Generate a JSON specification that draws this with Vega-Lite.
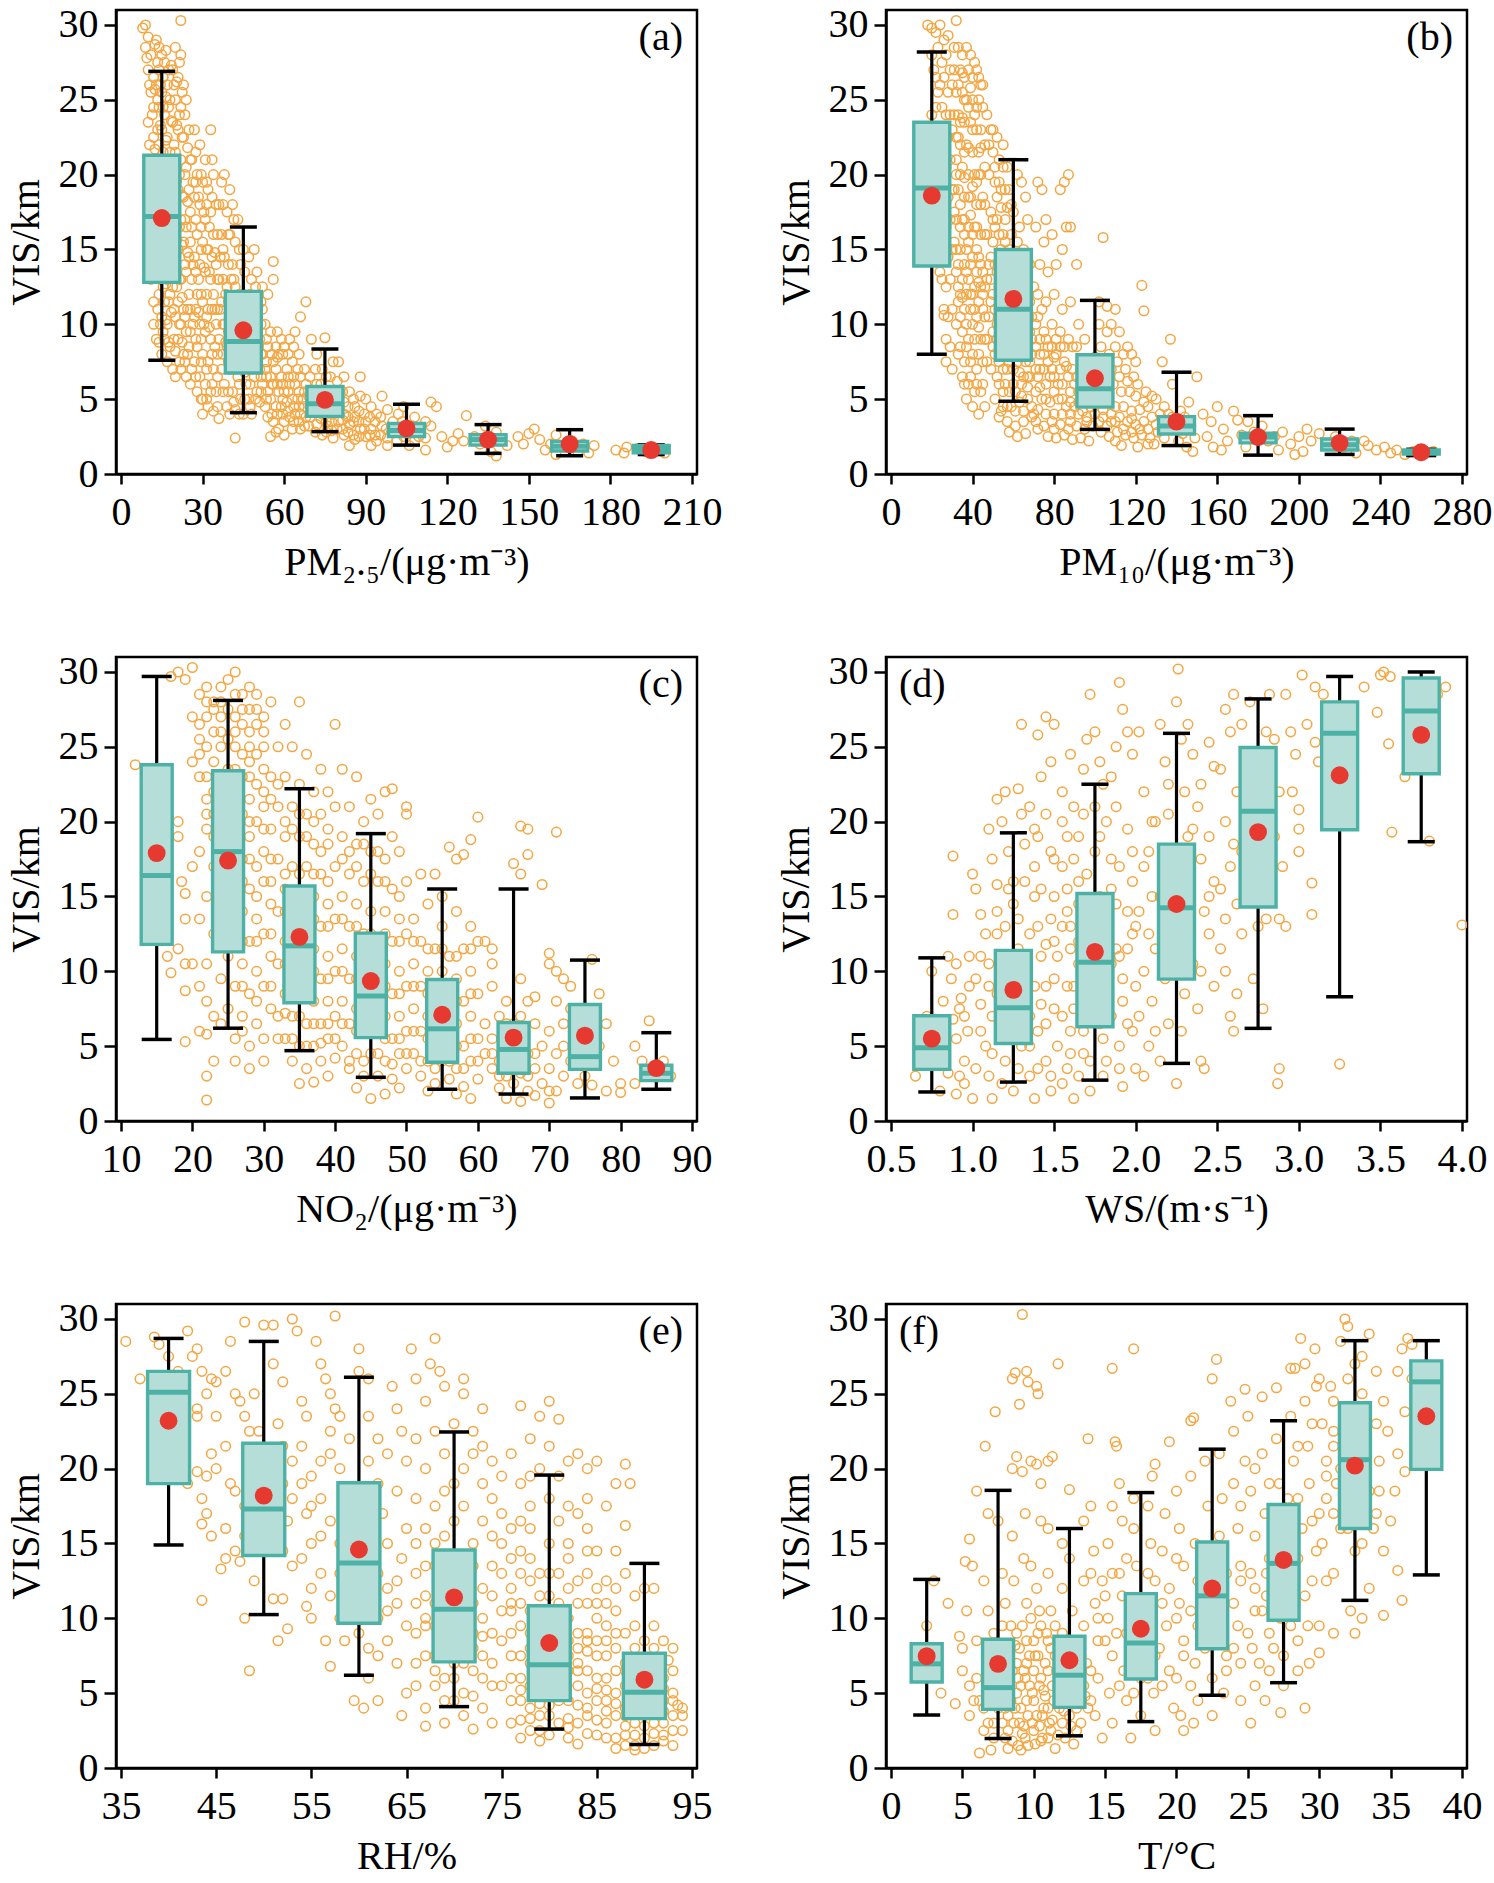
{
  "$schema": "https://vega.github.io/schema/vega-lite/v6.json",
  "background": "white",
  "padding": {"left": 4, "top": 3, "right": 10, "bottom": 0},
  "config": {
    "view": {"stroke": "black", "strokeWidth": 2.5},
    "font": "Liberation Serif",
    "axis": {
      "labelFont": "Liberation Serif", "labelFontSize": 40, "labelColor": "black",
      "titleFont": "Liberation Serif", "titleFontSize": 40, "titleFontWeight": "normal", "titleColor": "black",
      "domainColor": "black", "domainWidth": 2.5, "tickColor": "black", "tickWidth": 2.5,
      "grid": false, "labelFlush": false, "labelOverlap": false, "labelPadding": 6, "titlePadding": 12
    },
    "axisX": {"tickSize": 10, "labelPadding": 8, "titlePadding": 10},
    "axisY": {"tickSize": 12},
    "title": {"font": "Liberation Serif", "fontSize": 40, "fontWeight": "normal", "color": "black", "frame": "group"}
  },
  "spacing": {"row": 66, "column": 50},
  "columns": 2,
  "datasets": {
    "ba": [
      {"x": 15, "lo": 7.6, "q1": 12.8, "md": 17.2, "q3": 21.3, "hi": 26.9, "mn": 17.1},
      {"x": 45, "lo": 4.1, "q1": 6.75, "md": 8.85, "q3": 12.2, "hi": 16.5, "mn": 9.6},
      {"x": 75, "lo": 2.83, "q1": 3.85, "md": 4.7, "q3": 5.85, "hi": 8.35, "mn": 4.95},
      {"x": 105, "lo": 1.93, "q1": 2.5, "md": 2.9, "q3": 3.37, "hi": 4.66, "mn": 3.05},
      {"x": 135, "lo": 1.38, "q1": 1.93, "md": 2.3, "q3": 2.63, "hi": 3.3, "mn": 2.3},
      {"x": 165, "lo": 1.22, "q1": 1.54, "md": 1.85, "q3": 2.18, "hi": 2.96, "mn": 2.0},
      {"x": 195, "lo": 1.3, "q1": 1.42, "md": 1.65, "q3": 1.9, "hi": 1.95, "mn": 1.6}
    ],
    "bb": [
      {"x": 20, "lo": 8.0, "q1": 13.9, "md": 19.1, "q3": 23.5, "hi": 28.2, "mn": 18.6},
      {"x": 60, "lo": 4.86, "q1": 7.6, "md": 11.0, "q3": 15.0, "hi": 21.0, "mn": 11.7},
      {"x": 100, "lo": 2.98, "q1": 4.47, "md": 5.7, "q3": 7.97, "hi": 11.6, "mn": 6.4},
      {"x": 140, "lo": 1.9, "q1": 2.67, "md": 3.2, "q3": 3.83, "hi": 6.8, "mn": 3.5},
      {"x": 180, "lo": 1.26, "q1": 2.08, "md": 2.47, "q3": 2.72, "hi": 3.9, "mn": 2.47},
      {"x": 220, "lo": 1.31, "q1": 1.6, "md": 1.95, "q3": 2.34, "hi": 3.0, "mn": 2.08},
      {"x": 260, "lo": 1.23, "q1": 1.34, "md": 1.45, "q3": 1.6, "hi": 1.65, "mn": 1.45}
    ],
    "bc": [
      {"x": 15, "lo": 5.45, "q1": 11.8, "md": 16.4, "q3": 23.8, "hi": 29.7, "mn": 17.9},
      {"x": 25, "lo": 6.2, "q1": 11.3, "md": 18.0, "q3": 23.4, "hi": 28.1, "mn": 17.4},
      {"x": 35, "lo": 4.7, "q1": 7.9, "md": 11.7, "q3": 15.7, "hi": 22.2, "mn": 12.3},
      {"x": 45, "lo": 2.92, "q1": 5.57, "md": 8.35, "q3": 12.55, "hi": 19.2, "mn": 9.35},
      {"x": 55, "lo": 2.12, "q1": 3.93, "md": 6.16, "q3": 9.45, "hi": 15.5, "mn": 7.1},
      {"x": 65, "lo": 1.8, "q1": 3.19, "md": 4.78, "q3": 6.58, "hi": 15.5, "mn": 5.57},
      {"x": 75, "lo": 1.54, "q1": 3.45, "md": 4.3, "q3": 7.78, "hi": 10.75, "mn": 5.7},
      {"x": 85, "lo": 2.12, "q1": 2.7, "md": 3.19, "q3": 3.72, "hi": 5.9, "mn": 3.53}
    ],
    "bd": [
      {"x": 0.75, "lo": 1.94, "q1": 3.45, "md": 4.9, "q3": 7.03, "hi": 10.9, "mn": 5.5},
      {"x": 1.25, "lo": 2.6, "q1": 5.18, "md": 7.57, "q3": 11.4, "hi": 19.25, "mn": 8.76},
      {"x": 1.75, "lo": 2.73, "q1": 6.3, "md": 10.6, "q3": 15.2, "hi": 22.5, "mn": 11.3},
      {"x": 2.25, "lo": 3.85, "q1": 9.48, "md": 14.25, "q3": 18.5, "hi": 25.9, "mn": 14.5},
      {"x": 2.75, "lo": 6.19, "q1": 14.3, "md": 20.7, "q3": 24.95, "hi": 28.2, "mn": 19.3},
      {"x": 3.25, "lo": 8.3, "q1": 19.46, "md": 25.9, "q3": 28.0, "hi": 29.7, "mn": 23.1},
      {"x": 3.75, "lo": 18.66, "q1": 23.2, "md": 27.4, "q3": 29.6, "hi": 30.0, "mn": 25.8}
    ],
    "be": [
      {"x": 40, "lo": 14.9, "q1": 19.0, "md": 25.1, "q3": 26.5, "hi": 28.7, "mn": 23.2},
      {"x": 50, "lo": 10.25, "q1": 14.2, "md": 17.3, "q3": 21.7, "hi": 28.5, "mn": 18.2},
      {"x": 60, "lo": 6.2, "q1": 9.67, "md": 13.7, "q3": 19.06, "hi": 26.1, "mn": 14.6},
      {"x": 70, "lo": 4.1, "q1": 7.09, "md": 10.6, "q3": 14.56, "hi": 22.45, "mn": 11.4},
      {"x": 80, "lo": 2.6, "q1": 4.5, "md": 6.9, "q3": 10.84, "hi": 19.57, "mn": 8.35},
      {"x": 90, "lo": 1.57, "q1": 3.3, "md": 5.06, "q3": 7.67, "hi": 13.67, "mn": 5.9}
    ],
    "bf": [
      {"x": 2.5, "lo": 3.54, "q1": 5.75, "md": 6.96, "q3": 8.3, "hi": 12.6, "mn": 7.47},
      {"x": 7.5, "lo": 1.97, "q1": 3.92, "md": 5.37, "q3": 8.6, "hi": 18.55, "mn": 6.96},
      {"x": 12.5, "lo": 2.15, "q1": 4.05, "md": 6.2, "q3": 8.8, "hi": 16.0, "mn": 7.2},
      {"x": 17.5, "lo": 3.1, "q1": 5.95, "md": 8.35, "q3": 11.65, "hi": 18.4, "mn": 9.3},
      {"x": 22.5, "lo": 4.86, "q1": 7.97, "md": 11.5, "q3": 15.1, "hi": 21.3, "mn": 12.0},
      {"x": 27.5, "lo": 5.7, "q1": 9.87, "md": 13.67, "q3": 17.6, "hi": 23.2, "mn": 13.9},
      {"x": 32.5, "lo": 11.2, "q1": 16.0, "md": 20.6, "q3": 24.4, "hi": 28.55, "mn": 20.2},
      {"x": 37.5, "lo": 12.9, "q1": 19.95, "md": 25.8, "q3": 27.2, "hi": 28.55, "mn": 23.5}
    ],
    "sa": [
      {"x":8,"y":29.8},{"x":9,"y":30},{"x":10,"y":29.2},{"x":9,"y":28.5},{"x":11,"y":28},{"x":10,"y":27},{"x":12,"y":26.5},{"x":11,"y":25.5},{"x":12,"y":24.5},{"x":10,"y":23.5},{"x":12,"y":22.5},{"x":11,"y":21},{"x":12,"y":19.5},{"x":11,"y":18},{"x":12,"y":16.5},{"x":12,"y":15},{"x":11,"y":13},{"x":12,"y":11.5},{"x":12,"y":10},{"x":13,"y":9},
      {"x":13,"y":29},{"x":14,"y":28.5},{"x":15,"y":28},{"x":16,"y":27.5},{"x":14,"y":27},{"x":13,"y":26},{"x":15,"y":25.5},{"x":17,"y":26},{"x":14,"y":24.5},{"x":16,"y":24},{"x":18,"y":25},{"x":15,"y":23},{"x":17,"y":22.5},{"x":14,"y":22},{"x":16,"y":21},{"x":18,"y":21.5},{"x":15,"y":20},{"x":17,"y":19.5},{"x":14,"y":19},{"x":16,"y":18},{"x":18,"y":18.5},{"x":15,"y":17},{"x":17,"y":16},{"x":14,"y":15.5},{"x":16,"y":14.5},{"x":18,"y":15},{"x":15,"y":13.5},{"x":17,"y":13},{"x":14,"y":12},{"x":16,"y":11.5},{"x":18,"y":12},{"x":15,"y":10.5},{"x":17,"y":10},{"x":16,"y":9},{"x":18,"y":8.5},{"x":15,"y":8},{"x":17,"y":7.5},{"x":19,"y":7},{"x":14,"y":8.8},
      {"x":20,"y":28.5},{"x":22,"y":28},{"x":19,"y":27},{"x":21,"y":26.5},{"x":23,"y":26},{"x":20,"y":25},{"x":22,"y":24.5},{"x":24,"y":25},{"x":19,"y":23.5},{"x":21,"y":23},{"x":23,"y":22.5},{"x":25,"y":23},{"x":20,"y":21.5},{"x":22,"y":21},{"x":24,"y":20.5},{"x":19,"y":20},{"x":21,"y":19},{"x":23,"y":18.5},{"x":25,"y":19},{"x":20,"y":17.5},{"x":22,"y":17},{"x":24,"y":16.5},{"x":19,"y":16},{"x":21,"y":15},{"x":23,"y":15.5},{"x":25,"y":14.5},{"x":20,"y":14},{"x":22,"y":13},{"x":24,"y":13.5},{"x":19,"y":12.5},{"x":21,"y":11.5},{"x":23,"y":11},{"x":25,"y":12},{"x":20,"y":10.5},{"x":22,"y":10},{"x":24,"y":9.5},{"x":21,"y":9},{"x":23,"y":8},{"x":25,"y":8.5},{"x":20,"y":8.2},{"x":22,"y":7},{"x":24,"y":6.5},{"x":26,"y":7},{"x":22,"y":30.3},{"x":20,"y":6.5},
      {"x":27,"y":23},{"x":29,"y":22},{"x":31,"y":21},{"x":33,"y":23},{"x":26,"y":21},{"x":28,"y":20},{"x":30,"y":19.5},{"x":32,"y":19},{"x":34,"y":20},{"x":27,"y":18.5},{"x":29,"y":18},{"x":31,"y":17},{"x":33,"y":17.5},{"x":35,"y":18},{"x":26,"y":16.5},{"x":28,"y":16},{"x":30,"y":15.5},{"x":32,"y":15},{"x":34,"y":16},{"x":27,"y":14.5},{"x":29,"y":14},{"x":31,"y":13.5},{"x":33,"y":13},{"x":35,"y":14},{"x":26,"y":13},{"x":28,"y":12},{"x":30,"y":11.5},{"x":32,"y":11},{"x":34,"y":12},{"x":27,"y":10.5},{"x":29,"y":10},{"x":31,"y":9.5},{"x":33,"y":9},{"x":35,"y":10},{"x":28,"y":8.5},{"x":30,"y":8},{"x":32,"y":7.5},{"x":34,"y":7},{"x":27,"y":7.5},{"x":29,"y":6.5},{"x":31,"y":6},{"x":33,"y":5.5},{"x":35,"y":5.5},{"x":30,"y":5},{"x":32,"y":4.5},{"x":28,"y":5.5},{"x":34,"y":4.2},{"x":30,"y":4},
      {"x":37,"y":19.5},{"x":38,"y":20},{"x":40,"y":19},{"x":36,"y":18},{"x":39,"y":17.5},{"x":41,"y":18},{"x":43,"y":17},{"x":37,"y":16},{"x":40,"y":16},{"x":42,"y":15.5},{"x":45,"y":15},{"x":38,"y":14.5},{"x":41,"y":14},{"x":44,"y":14},{"x":47,"y":14.5},{"x":49,"y":15},{"x":36,"y":13},{"x":39,"y":12.5},{"x":42,"y":12.5},{"x":45,"y":12},{"x":48,"y":13},{"x":50,"y":13.5},{"x":37,"y":11.5},{"x":40,"y":11},{"x":43,"y":11},{"x":46,"y":10.5},{"x":49,"y":11},{"x":38,"y":10},{"x":41,"y":9.5},{"x":44,"y":9},{"x":47,"y":9.5},{"x":50,"y":10},{"x":36,"y":9},{"x":39,"y":8.5},{"x":42,"y":8},{"x":45,"y":7.5},{"x":48,"y":8},{"x":37,"y":7},{"x":40,"y":7},{"x":43,"y":6.5},{"x":46,"y":6},{"x":49,"y":6.5},{"x":38,"y":6},{"x":41,"y":5.5},{"x":44,"y":5},{"x":47,"y":5},{"x":50,"y":5.5},{"x":39,"y":4.5},{"x":42,"y":4.3},{"x":45,"y":4},{"x":48,"y":4},{"x":42,"y":2.4},{"x":36,"y":3.7},{"x":40,"y":4},{"x":52,"y":12.5},{"x":52,"y":11},{"x":54,"y":12},
      {"x":51,"y":9},{"x":53,"y":10},{"x":55,"y":9.5},{"x":57,"y":8.5},{"x":59,"y":9},{"x":52,"y":8},{"x":54,"y":8.5},{"x":56,"y":7.5},{"x":58,"y":8},{"x":60,"y":8.5},{"x":62,"y":9},{"x":51,"y":7},{"x":53,"y":7},{"x":55,"y":6.5},{"x":57,"y":7},{"x":59,"y":6.5},{"x":61,"y":7},{"x":63,"y":7.5},{"x":65,"y":7},{"x":52,"y":6},{"x":54,"y":5.5},{"x":56,"y":6},{"x":58,"y":5.5},{"x":60,"y":5.5},{"x":62,"y":6},{"x":64,"y":6},{"x":66,"y":6.5},{"x":68,"y":6},{"x":51,"y":4.8},{"x":53,"y":4.5},{"x":55,"y":5},{"x":57,"y":4.5},{"x":59,"y":4.5},{"x":61,"y":4.8},{"x":63,"y":5},{"x":65,"y":5},{"x":67,"y":5},{"x":69,"y":5.2},{"x":54,"y":3.8},{"x":56,"y":3.5},{"x":58,"y":3},{"x":60,"y":3.5},{"x":62,"y":3.8},{"x":64,"y":4},{"x":66,"y":4},{"x":68,"y":3.8},{"x":55,"y":2.5},{"x":57,"y":2.8},{"x":60,"y":2.6},{"x":63,"y":3},{"x":66,"y":3},{"x":69,"y":3.2},{"x":56,"y":14.2},{"x":56,"y":13},{"x":68,"y":11.5},{"x":66,"y":10.5},{"x":64,"y":9.5},{"x":70,"y":9},
      {"x":72,"y":8},{"x":75,"y":9.1},{"x":78,"y":7.5},{"x":80,"y":7.5},{"x":74,"y":7},{"x":77,"y":6.5},{"x":82,"y":6.5},{"x":88,"y":6.5},{"x":72,"y":6},{"x":76,"y":5.5},{"x":80,"y":5.5},{"x":84,"y":5.5},{"x":88,"y":5.2},{"x":73,"y":5},{"x":78,"y":4.8},{"x":82,"y":4.8},{"x":86,"y":4.5},{"x":90,"y":5},{"x":92,"y":4.5},{"x":74,"y":4},{"x":78,"y":4},{"x":82,"y":4},{"x":86,"y":3.8},{"x":90,"y":3.5},{"x":94,"y":4},{"x":98,"y":4.3},{"x":72,"y":3.3},{"x":76,"y":3.2},{"x":80,"y":3.5},{"x":84,"y":3.3},{"x":88,"y":3},{"x":92,"y":3},{"x":96,"y":3.2},{"x":100,"y":3.5},{"x":74,"y":2.6},{"x":78,"y":2.4},{"x":82,"y":2.6},{"x":86,"y":2.3},{"x":90,"y":2.5},{"x":94,"y":2.2},{"x":98,"y":2.4},{"x":84,"y":1.9},{"x":92,"y":1.9},{"x":98,"y":1.9},{"x":96,"y":5.2},{"x":102,"y":4},
      {"x":104,"y":4.5},{"x":108,"y":3.8},{"x":112,"y":3.5},{"x":114,"y":4.8},{"x":116,"y":4.5},{"x":106,"y":3},{"x":110,"y":3},{"x":114,"y":3.2},{"x":104,"y":2.5},{"x":108,"y":2.2},{"x":112,"y":2.4},{"x":106,"y":1.9},{"x":112,"y":1.6},{"x":118,"y":2.5},{"x":122,"y":2.2},{"x":124,"y":2.7},{"x":127,"y":3.9},{"x":126,"y":2.2},{"x":120,"y":1.8},{"x":130,"y":2.5},{"x":134,"y":3.2},{"x":138,"y":2.8},{"x":132,"y":2},{"x":136,"y":1.5},{"x":140,"y":2.2},{"x":138,"y":1.2},{"x":142,"y":1.9},{"x":146,"y":2.5},{"x":150,"y":2.7},{"x":152,"y":3},{"x":148,"y":2},{"x":154,"y":2.3},{"x":156,"y":1.6},{"x":158,"y":2},{"x":160,"y":2.6},{"x":163,"y":1.8},{"x":166,"y":2.2},{"x":170,"y":2},{"x":168,"y":1.5},{"x":172,"y":1.4},{"x":174,"y":1.9},{"x":160,"y":1.3},{"x":182,"y":1.6},{"x":185,"y":1.4},{"x":186,"y":1.8},{"x":190,"y":1.7},{"x":193,"y":1.5},{"x":197,"y":1.6},{"x":200,"y":1.4},
      {"x":9.5,"y":27.8},{"x":10.5,"y":26},{"x":11.5,"y":24},{"x":10.5,"y":22},{"x":11.5,"y":20},{"x":10.5,"y":17},{"x":11.5,"y":14},{"x":13.5,"y":27.5},{"x":13.5,"y":25},{"x":13.5,"y":23},{"x":13.5,"y":20.5},{"x":13.5,"y":17.5},{"x":13.5,"y":14},{"x":13.5,"y":11},{"x":15.5,"y":26.5},{"x":15.5,"y":24.5},{"x":15.5,"y":21.5},{"x":15.5,"y":18.5},{"x":15.5,"y":15.5},{"x":15.5,"y":12.5},{"x":15.5,"y":9.5},{"x":17.5,"y":27},{"x":17.5,"y":24.5},{"x":17.5,"y":20.5},{"x":17.5,"y":17.5},{"x":17.5,"y":14.5},{"x":17.5,"y":11.5},{"x":17.5,"y":8.8},{"x":19.5,"y":26},{"x":19.5,"y":22},{"x":19.5,"y":18.5},{"x":19.5,"y":15},{"x":19.5,"y":11},{"x":19.5,"y":9},{"x":21.5,"y":27.5},{"x":21.5,"y":24},{"x":21.5,"y":20},{"x":21.5,"y":16.5},{"x":21.5,"y":13},{"x":21.5,"y":10},{"x":21.5,"y":7.5},{"x":23.5,"y":24},{"x":23.5,"y":20},{"x":23.5,"y":17},{"x":23.5,"y":14},{"x":23.5,"y":10.5},{"x":23.5,"y":7.5},{"x":25.5,"y":21},{"x":25.5,"y":17.5},{"x":25.5,"y":15.5},{"x":25.5,"y":11},{"x":25.5,"y":9.5},{"x":25.5,"y":6},{"x":27.5,"y":21.5},{"x":27.5,"y":19.5},{"x":27.5,"y":17},{"x":27.5,"y":13.5},{"x":27.5,"y":11},{"x":27.5,"y":9},{"x":27.5,"y":6.5},{"x":29.5,"y":20},{"x":29.5,"y":16.5},{"x":29.5,"y":15},{"x":29.5,"y":12},{"x":29.5,"y":9},{"x":29.5,"y":7.5},{"x":29.5,"y":5},{"x":31.5,"y":19.5},{"x":31.5,"y":18},{"x":31.5,"y":15},{"x":31.5,"y":12},{"x":31.5,"y":10.5},{"x":31.5,"y":7},{"x":31.5,"y":5},{"x":33.5,"y":21},{"x":33.5,"y":18.5},{"x":33.5,"y":14.5},{"x":33.5,"y":11},{"x":33.5,"y":8},{"x":33.5,"y":6},{"x":35.5,"y":16},{"x":35.5,"y":13},{"x":35.5,"y":11},{"x":35.5,"y":8},{"x":35.5,"y":6.5},{"x":35.5,"y":4.5},{"x":37.5,"y":18},{"x":37.5,"y":15},{"x":37.5,"y":13},{"x":37.5,"y":10},{"x":37.5,"y":8},{"x":37.5,"y":5.5},{"x":39.5,"y":16},{"x":39.5,"y":14},{"x":39.5,"y":11.5},{"x":39.5,"y":9.5},{"x":39.5,"y":7.5},{"x":39.5,"y":5.5},{"x":41.5,"y":17},{"x":41.5,"y":13},{"x":41.5,"y":10.5},{"x":41.5,"y":7},{"x":41.5,"y":4.8},{"x":43.5,"y":15},{"x":43.5,"y":12},{"x":43.5,"y":9.8},{"x":43.5,"y":8.5},{"x":43.5,"y":6},{"x":43.5,"y":4},{"x":45.5,"y":13.5},{"x":45.5,"y":11},{"x":45.5,"y":9},{"x":45.5,"y":6.8},{"x":45.5,"y":5},{"x":47.5,"y":12},{"x":47.5,"y":10.5},{"x":47.5,"y":7},{"x":47.5,"y":6},{"x":47.5,"y":4.5},{"x":49.5,"y":12.5},{"x":49.5,"y":9},{"x":49.5,"y":7.5},{"x":49.5,"y":5},{"x":51.5,"y":11.5},{"x":51.5,"y":10},{"x":51.5,"y":8},{"x":51.5,"y":6.5},{"x":51.5,"y":5.5},{"x":53.5,"y":9},{"x":53.5,"y":7.5},{"x":53.5,"y":6.5},{"x":53.5,"y":5},{"x":55.5,"y":8},{"x":55.5,"y":6},{"x":55.5,"y":4},{"x":57.5,"y":9.5},{"x":57.5,"y":7.8},{"x":57.5,"y":6},{"x":57.5,"y":4},{"x":59.5,"y":8},{"x":59.5,"y":6},{"x":59.5,"y":5},{"x":59.5,"y":4},{"x":61.5,"y":8},{"x":61.5,"y":6.5},{"x":61.5,"y":5.5},{"x":61.5,"y":4.2},{"x":63.5,"y":8.5},{"x":63.5,"y":6.5},{"x":63.5,"y":4.5},{"x":63.5,"y":3.5},{"x":65.5,"y":8},{"x":65.5,"y":5.5},{"x":65.5,"y":4.5},{"x":65.5,"y":3.5},{"x":67.5,"y":7},{"x":67.5,"y":5.5},{"x":67.5,"y":4.5},{"x":67.5,"y":3.2},{"x":69.5,"y":6.5},{"x":69.5,"y":4.5},{"x":69.5,"y":3.8},{"x":71.5,"y":7},{"x":71.5,"y":5},{"x":71.5,"y":4.3},{"x":71.5,"y":2.8},{"x":73.5,"y":6},{"x":73.5,"y":4.5},{"x":73.5,"y":3.7},{"x":75.5,"y":6.5},{"x":75.5,"y":4.5},{"x":75.5,"y":3.5},{"x":75.5,"y":2.8},{"x":77.5,"y":5.5},{"x":77.5,"y":3.5},{"x":77.5,"y":2.9},{"x":79.5,"y":6.2},{"x":79.5,"y":4.3},{"x":79.5,"y":3},{"x":81.5,"y":5.5},{"x":81.5,"y":3.6},{"x":81.5,"y":3},{"x":83.5,"y":4.5},{"x":83.5,"y":3.8},{"x":83.5,"y":2.8},{"x":85.5,"y":5},{"x":85.5,"y":3.5},{"x":85.5,"y":2.6},{"x":87.5,"y":4.2},{"x":87.5,"y":3.5},{"x":87.5,"y":2.5},{"x":89.5,"y":4},{"x":89.5,"y":3},{"x":91.5,"y":3.8},{"x":91.5,"y":2.6},{"x":93.5,"y":3.5},{"x":93.5,"y":2.6},{"x":95.5,"y":3.8},{"x":95.5,"y":2.6},{"x":97.5,"y":3},{"x":99.5,"y":2.8},{"x":101.5,"y":3},{"x":101.5,"y":2.2},{"x":103.5,"y":3.5},{"x":105.5,"y":2.7},{"x":107.5,"y":3.2},{"x":109.5,"y":2.5},
      {"x":12.5,"y":28.7},{"x":12.5,"y":25.7},{"x":12.5,"y":21.7},{"x":12.5,"y":18.2},{"x":12.5,"y":13.7},{"x":14.5,"y":26},{"x":14.5,"y":23.3},{"x":14.5,"y":20.3},{"x":14.5,"y":16.5},{"x":14.5,"y":13},{"x":14.5,"y":10},{"x":16.5,"y":28.3},{"x":16.5,"y":25.2},{"x":16.5,"y":22.3},{"x":16.5,"y":19.3},{"x":16.5,"y":16.3},{"x":16.5,"y":12.7},{"x":16.5,"y":10.3},{"x":18.5,"y":27.3},{"x":18.5,"y":23.6},{"x":18.5,"y":20},{"x":18.5,"y":16.8},{"x":18.5,"y":13.6},{"x":18.5,"y":10.8},{"x":20.5,"y":26.2},{"x":20.5,"y":23.3},{"x":20.5,"y":19.6},{"x":20.5,"y":15.7},{"x":20.5,"y":12.5},{"x":22.5,"y":25.5},{"x":22.5,"y":22.5},{"x":22.5,"y":18.6},{"x":22.5,"y":15.3},{"x":22.5,"y":11.8},{"x":22.5,"y":8.8},{"x":24.5,"y":21.8},{"x":24.5,"y":18.2},{"x":24.5,"y":14.8},{"x":24.5,"y":11},{"x":24.5,"y":8},{"x":26.5,"y":19.5},{"x":26.5,"y":14},{"x":26.5,"y":10},{"x":28.5,"y":18.5},{"x":28.5,"y":13},{"x":28.5,"y":10.8},{"x":30.5,"y":17.5},{"x":30.5,"y":13.8},{"x":30.5,"y":10},{"x":32.5,"y":16.5},{"x":32.5,"y":13.5},{"x":32.5,"y":9.8},{"x":34.5,"y":14.8},{"x":34.5,"y":11},{"x":34.5,"y":8.5},{"x":36.5,"y":14.5},{"x":36.5,"y":11},{"x":38.5,"y":12},{"x":38.5,"y":8.8},{"x":40.5,"y":13},{"x":42.5,"y":10},{"x":44.5,"y":11},{"x":46.5,"y":8.3},{"x":48.5,"y":9.5}
    ],
    "sb": [
      {"x":18,"y":30},{"x":20,"y":29.8},{"x":22,"y":29.5},{"x":24,"y":30},{"x":26,"y":29},{"x":28,"y":29.3},{"x":20,"y":28},{"x":23,"y":28.5},{"x":25,"y":27.5},{"x":27,"y":28},{"x":29,"y":27},{"x":22,"y":26.5},{"x":24,"y":26},{"x":26,"y":26.5},{"x":28,"y":25.5},{"x":30,"y":26},{"x":20,"y":24},{"x":22,"y":24.5},{"x":25,"y":24.5},{"x":27,"y":24},{"x":29,"y":24},{"x":26,"y":23},{"x":28,"y":22.5},{"x":30,"y":23},{"x":25,"y":21},{"x":27,"y":20.5},{"x":29,"y":21},{"x":26,"y":19},{"x":28,"y":18.5},{"x":30,"y":19},{"x":25,"y":17},{"x":27,"y":16.5},{"x":29,"y":17},{"x":26,"y":15},{"x":28,"y":14.5},{"x":30,"y":15},{"x":25,"y":13},{"x":27,"y":12.5},{"x":29,"y":13},{"x":26,"y":11},{"x":28,"y":10.5},{"x":30,"y":11},{"x":27,"y":9},{"x":29,"y":8.5},{"x":27,"y":7.5},{"x":30,"y":7},{"x":26,"y":10.6},
      {"x":32,"y":30.3},{"x":33,"y":28.5},{"x":35,"y":28},{"x":37,"y":28.5},{"x":39,"y":28},{"x":31,"y":27},{"x":34,"y":27},{"x":36,"y":26.5},{"x":38,"y":27},{"x":40,"y":26.5},{"x":42,"y":27},{"x":44,"y":26},{"x":32,"y":25.5},{"x":35,"y":25.5},{"x":37,"y":25},{"x":40,"y":25},{"x":43,"y":25},{"x":45,"y":24.5},{"x":31,"y":24},{"x":33,"y":24},{"x":36,"y":23.5},{"x":39,"y":23.5},{"x":42,"y":23},{"x":44,"y":23},{"x":34,"y":22},{"x":37,"y":22},{"x":40,"y":21.5},{"x":43,"y":21.5},{"x":32,"y":21},{"x":35,"y":20.5},{"x":38,"y":20},{"x":41,"y":20},{"x":44,"y":20},{"x":31,"y":19},{"x":33,"y":19},{"x":36,"y":18.5},{"x":39,"y":18.5},{"x":42,"y":18},{"x":45,"y":18.5},{"x":32,"y":17},{"x":35,"y":17},{"x":38,"y":16.5},{"x":41,"y":16.5},{"x":44,"y":16},{"x":31,"y":15.5},{"x":34,"y":15},{"x":37,"y":15},{"x":40,"y":14.5},{"x":43,"y":14.5},{"x":32,"y":13.5},{"x":35,"y":13},{"x":38,"y":13},{"x":41,"y":12.5},{"x":44,"y":12.5},{"x":33,"y":11.5},{"x":36,"y":11},{"x":39,"y":11},{"x":42,"y":10.5},{"x":45,"y":11},{"x":32,"y":10},{"x":35,"y":9.5},{"x":38,"y":9},{"x":41,"y":9},{"x":44,"y":9},{"x":33,"y":8},{"x":36,"y":7.5},{"x":39,"y":7.5},{"x":42,"y":7},{"x":45,"y":7.5},{"x":35,"y":6.5},{"x":38,"y":6},{"x":41,"y":5.5},{"x":44,"y":5.5},{"x":37,"y":5},{"x":40,"y":4.5},{"x":43,"y":4},{"x":46,"y":4.5},
      {"x":47,"y":24},{"x":49,"y":23},{"x":52,"y":22.5},{"x":55,"y":22},{"x":46,"y":22},{"x":50,"y":21.5},{"x":53,"y":21},{"x":57,"y":20.5},{"x":48,"y":20},{"x":51,"y":19.5},{"x":54,"y":19},{"x":58,"y":19},{"x":62,"y":20},{"x":64,"y":19.5},{"x":66,"y":18.5},{"x":46,"y":18},{"x":49,"y":17.5},{"x":52,"y":17},{"x":56,"y":17},{"x":60,"y":17.5},{"x":63,"y":16.5},{"x":67,"y":17},{"x":47,"y":16},{"x":50,"y":15.5},{"x":54,"y":15},{"x":58,"y":15},{"x":61,"y":14.5},{"x":65,"y":15},{"x":68,"y":14},{"x":48,"y":14},{"x":52,"y":13.5},{"x":56,"y":13},{"x":60,"y":12.5},{"x":64,"y":13},{"x":67,"y":12},{"x":46,"y":12.5},{"x":50,"y":12},{"x":54,"y":11.5},{"x":58,"y":11},{"x":62,"y":10.5},{"x":66,"y":11},{"x":69,"y":10.5},{"x":48,"y":10.5},{"x":52,"y":10},{"x":56,"y":9.5},{"x":60,"y":9},{"x":64,"y":9},{"x":68,"y":9.5},{"x":47,"y":9},{"x":50,"y":8.5},{"x":54,"y":8},{"x":58,"y":7.5},{"x":62,"y":7.5},{"x":66,"y":7.5},{"x":69,"y":8},{"x":49,"y":7},{"x":52,"y":6.5},{"x":56,"y":6},{"x":60,"y":6},{"x":64,"y":6},{"x":68,"y":6.5},{"x":51,"y":5},{"x":55,"y":4.5},{"x":59,"y":4.5},{"x":63,"y":4.8},{"x":67,"y":5},{"x":53,"y":3.8},{"x":57,"y":3.5},{"x":61,"y":3.2},{"x":65,"y":3.5},{"x":69,"y":3.8},{"x":58,"y":2.8},{"x":62,"y":2.5},{"x":66,"y":2.7},{"x":54,"y":4.2},
      {"x":72,"y":19.5},{"x":74,"y":19},{"x":76,"y":17},{"x":71,"y":16.5},{"x":75,"y":15.5},{"x":79,"y":16},{"x":73,"y":14},{"x":77,"y":13.5},{"x":81,"y":14},{"x":84,"y":15},{"x":86,"y":16.5},{"x":88,"y":16.5},{"x":87,"y":20},{"x":85,"y":19.5},{"x":83,"y":19},{"x":91,"y":14},{"x":72,"y":12},{"x":76,"y":11.5},{"x":80,"y":12},{"x":84,"y":11},{"x":88,"y":11.5},{"x":92,"y":10},{"x":71,"y":10},{"x":75,"y":9.5},{"x":79,"y":10},{"x":83,"y":9.5},{"x":87,"y":9},{"x":91,"y":8.5},{"x":95,"y":9},{"x":73,"y":8},{"x":77,"y":7.5},{"x":81,"y":8},{"x":85,"y":7.5},{"x":89,"y":7},{"x":93,"y":7},{"x":97,"y":7.5},{"x":72,"y":6.5},{"x":76,"y":6},{"x":80,"y":6.5},{"x":84,"y":6},{"x":88,"y":5.5},{"x":92,"y":5.5},{"x":96,"y":6},{"x":74,"y":5},{"x":78,"y":4.8},{"x":82,"y":5},{"x":86,"y":4.5},{"x":90,"y":4.5},{"x":94,"y":4.2},{"x":98,"y":4.5},{"x":71,"y":3.5},{"x":75,"y":3.2},{"x":79,"y":3.5},{"x":83,"y":3.3},{"x":87,"y":3},{"x":91,"y":3.2},{"x":95,"y":3},{"x":99,"y":3.2},{"x":77,"y":2.5},{"x":81,"y":2.4},{"x":85,"y":2.6},{"x":89,"y":2.3},{"x":93,"y":2.4},{"x":97,"y":2.2},{"x":70,"y":4},
      {"x":104,"y":15.8},{"x":102,"y":11.5},{"x":106,"y":11.2},{"x":110,"y":11},{"x":108,"y":10},{"x":112,"y":9.5},{"x":116,"y":8.5},{"x":118,"y":8},{"x":123,"y":12.6},{"x":124,"y":10.9},{"x":120,"y":7.5},{"x":103,"y":8.5},{"x":107,"y":8},{"x":111,"y":7.5},{"x":115,"y":7},{"x":119,"y":6.5},{"x":101,"y":6.5},{"x":105,"y":6},{"x":109,"y":6},{"x":113,"y":5.5},{"x":117,"y":5.5},{"x":121,"y":6},{"x":125,"y":5.5},{"x":102,"y":5},{"x":106,"y":4.8},{"x":110,"y":4.5},{"x":114,"y":4.5},{"x":118,"y":4.2},{"x":122,"y":4.3},{"x":126,"y":4.5},{"x":130,"y":5},{"x":104,"y":3.8},{"x":108,"y":3.5},{"x":112,"y":3.8},{"x":116,"y":3.5},{"x":120,"y":3.3},{"x":124,"y":3.5},{"x":128,"y":3.8},{"x":132,"y":4},{"x":103,"y":2.8},{"x":107,"y":2.5},{"x":111,"y":2.8},{"x":115,"y":2.6},{"x":119,"y":2.4},{"x":123,"y":2.6},{"x":127,"y":2.4},{"x":131,"y":2.8},{"x":135,"y":3},{"x":113,"y":1.9},{"x":121,"y":1.8},{"x":129,"y":2},{"x":137,"y":9},{"x":133,"y":7.5},{"x":138,"y":6},{"x":134,"y":4.5},{"x":142,"y":4.2},{"x":146,"y":4.8},{"x":150,"y":6.5},{"x":139,"y":3.2},{"x":143,"y":2.7},{"x":147,"y":3.2},{"x":141,"y":2.2},{"x":145,"y":1.8},{"x":149,"y":2.4},{"x":148,"y":1.5},
      {"x":153,"y":4},{"x":157,"y":3.5},{"x":155,"y":2.5},{"x":158,"y":1.8},{"x":160,"y":4.5},{"x":163,"y":3},{"x":165,"y":2.2},{"x":162,"y":1.6},{"x":168,"y":4.2},{"x":170,"y":3.6},{"x":172,"y":2.6},{"x":175,"y":3.5},{"x":174,"y":1.8},{"x":178,"y":2.8},{"x":182,"y":3.2},{"x":185,"y":2.2},{"x":188,"y":2.5},{"x":192,"y":2.8},{"x":190,"y":1.6},{"x":196,"y":2},{"x":198,"y":1.3},{"x":200,"y":2.5},{"x":204,"y":3},{"x":206,"y":2.2},{"x":202,"y":1.5},{"x":210,"y":2.7},{"x":214,"y":2},{"x":218,"y":2.5},{"x":222,"y":1.8},{"x":226,"y":2.2},{"x":228,"y":1.4},{"x":232,"y":2.2},{"x":234,"y":1.9},{"x":238,"y":1.6},{"x":242,"y":1.8},{"x":245,"y":1.4},{"x":248,"y":1.6},{"x":252,"y":1.3},{"x":256,"y":1.5},{"x":262,"y":1.4},{"x":266,"y":1.5},
      {"x":21,"y":27},{"x":23,"y":25.5},{"x":24,"y":23},{"x":21,"y":22},{"x":23,"y":21},{"x":24,"y":19},{"x":23,"y":16},{"x":24,"y":13.5},{"x":31,"y":28.5},{"x":33,"y":26},{"x":35,"y":26.8},{"x":33,"y":22.5},{"x":35,"y":23.8},{"x":36,"y":21.5},{"x":38,"y":21.8},{"x":39,"y":25.8},{"x":41,"y":24},{"x":41,"y":27.5},{"x":43,"y":26.5},{"x":45,"y":26},{"x":43,"y":20},{"x":46,"y":20.5},{"x":31,"y":17.5},{"x":34,"y":18},{"x":36,"y":16},{"x":39,"y":17.3},{"x":42,"y":16.5},{"x":46,"y":16},{"x":33,"y":14},{"x":36,"y":14},{"x":39,"y":14},{"x":42,"y":13.5},{"x":45,"y":13.5},{"x":34,"y":12},{"x":37,"y":12},{"x":40,"y":12},{"x":43,"y":11.5},{"x":46,"y":10.5},{"x":34,"y":10.5},{"x":37,"y":10},{"x":40,"y":10},{"x":43,"y":9.8},{"x":46,"y":9},{"x":34,"y":8.5},{"x":37,"y":8.5},{"x":40,"y":8},{"x":43,"y":8},{"x":47,"y":7.5},{"x":36,"y":6},{"x":39,"y":6.5},{"x":42,"y":6},{"x":45,"y":6},{"x":48,"y":22},{"x":50,"y":23},{"x":51,"y":20.5},{"x":53,"y":19.5},{"x":55,"y":20.5},{"x":56,"y":19},{"x":57,"y":17.8},{"x":59,"y":18},{"x":59,"y":16},{"x":62,"y":15.5},{"x":51,"y":16.5},{"x":53,"y":16},{"x":55,"y":16},{"x":57,"y":14},{"x":59,"y":13.5},{"x":62,"y":13.5},{"x":66,"y":14},{"x":49,"y":13},{"x":51,"y":14},{"x":53,"y":12.5},{"x":55,"y":12},{"x":57,"y":12},{"x":59,"y":12},{"x":63,"y":11.5},{"x":65,"y":12},{"x":68,"y":11.5},{"x":49,"y":11.5},{"x":51,"y":11},{"x":53,"y":11},{"x":55,"y":10.5},{"x":57,"y":10},{"x":59,"y":10},{"x":61,"y":9.5},{"x":63,"y":10},{"x":66,"y":10},{"x":50,"y":9.5},{"x":52,"y":9},{"x":54,"y":9},{"x":56,"y":8.5},{"x":58,"y":8.5},{"x":62,"y":8.5},{"x":64,"y":8},{"x":67,"y":8.5},{"x":69,"y":9},{"x":51,"y":8},{"x":53,"y":7.5},{"x":55,"y":7},{"x":57,"y":7},{"x":60,"y":7},{"x":63,"y":6.8},{"x":65,"y":6.5},{"x":67,"y":6.5},{"x":53,"y":6},{"x":55,"y":5.5},{"x":58,"y":5.5},{"x":61,"y":5.5},{"x":64,"y":5.2},{"x":67,"y":5.8},{"x":57,"y":4.5},{"x":61,"y":4.2},{"x":65,"y":4.2},{"x":69,"y":4.5},{"x":71,"y":8.5},{"x":73,"y":9},{"x":75,"y":8},{"x":77,"y":8.5},{"x":79,"y":8.5},{"x":81,"y":9},{"x":83,"y":8.5},{"x":85,"y":8.5},{"x":89,"y":8.5},{"x":71,"y":7},{"x":73,"y":7},{"x":75,"y":7},{"x":79,"y":7},{"x":83,"y":7},{"x":87,"y":6.5},{"x":91,"y":6.5},{"x":95,"y":6.5},{"x":71,"y":5.5},{"x":73,"y":5.8},{"x":76,"y":5},{"x":80,"y":5.5},{"x":84,"y":5},{"x":88,"y":4.8},{"x":92,"y":4.8},{"x":96,"y":5},{"x":100,"y":5.5},{"x":72,"y":4.3},{"x":76,"y":4},{"x":80,"y":4},{"x":84,"y":4},{"x":88,"y":4},{"x":92,"y":4},{"x":96,"y":3.8},{"x":100,"y":4},{"x":104,"y":4.3},{"x":108,"y":4},{"x":72,"y":3},{"x":80,"y":3},{"x":88,"y":3.5},{"x":96,"y":3.5},{"x":102,"y":3.5},{"x":106,"y":3.2},{"x":110,"y":3.5},{"x":114,"y":3},{"x":118,"y":3.7},{"x":122,"y":3},{"x":126,"y":3},{"x":130,"y":3.3},{"x":134,"y":3.5},{"x":138,"y":3.8},{"x":110,"y":2.2},{"x":118,"y":2.8},{"x":126,"y":2},{"x":134,"y":2.4},{"x":102,"y":10},{"x":106,"y":9.5},{"x":110,"y":8.5},{"x":114,"y":8},{"x":100,"y":7.8},{"x":104,"y":7},{"x":108,"y":7},{"x":112,"y":6.5},{"x":116,"y":6.2},{"x":120,"y":5.2},{"x":124,"y":4.8},{"x":128,"y":5.2},{"x":136,"y":4},{"x":140,"y":3.5},{"x":144,"y":3.8},
      {"x":32,"y":22.5},{"x":34,"y":23.5},{"x":36,"y":25},{"x":38,"y":24.5},{"x":40,"y":23},{"x":42,"y":24.5},{"x":44,"y":21.8},{"x":32,"y":20},{"x":34,"y":20},{"x":36,"y":19.8},{"x":38,"y":18.5},{"x":40,"y":19.2},{"x":42,"y":19.5},{"x":44,"y":18},{"x":32,"y":15},{"x":34,"y":16.5},{"x":36,"y":17},{"x":38,"y":15.5},{"x":40,"y":16},{"x":42,"y":15},{"x":44,"y":14},{"x":33,"y":12.5},{"x":35,"y":11.8},{"x":37,"y":13.5},{"x":39,"y":12},{"x":41,"y":11},{"x":43,"y":12.8},{"x":45,"y":12},{"x":47,"y":13},{"x":49,"y":14.5},{"x":50,"y":17},{"x":52,"y":18.5},{"x":54,"y":17.8},{"x":56,"y":15.5},{"x":58,"y":13},{"x":60,"y":14},{"x":62,"y":12},{"x":64,"y":10.5},{"x":66,"y":9},{"x":68,"y":7.5},{"x":70,"y":12.5},{"x":72,"y":10.5},{"x":74,"y":11},{"x":76,"y":9},{"x":78,"y":6.5},{"x":80,"y":7.8},{"x":82,"y":6},{"x":86,"y":7.2},{"x":90,"y":6},{"x":94,"y":5.5}
    ],
    "sc": [
      {"x":12,"y":23.8},{"x":17,"y":29.7},{"x":18,"y":30},{"x":19,"y":29.5},{"x":18,"y":20},{"x":18,"y":19},{"x":18.5,"y":16},{"x":19,"y":15.2},{"x":18,"y":11.5},{"x":19,"y":10.5},{"x":17,"y":9.9},{"x":19,"y":8.7},{"x":19,"y":5.3},{"x":16.5,"y":11},{"x":20,"y":17},{"x":19,"y":13.5},
      {"x":20,"y":30.3},{"x":21,"y":28.5},{"x":22,"y":29},{"x":23,"y":28},{"x":24,"y":29},{"x":20,"y":27},{"x":22,"y":27},{"x":23,"y":26},{"x":24,"y":27},{"x":21,"y":25.5},{"x":22,"y":25},{"x":23,"y":24},{"x":24,"y":25},{"x":20,"y":24},{"x":21,"y":23},{"x":23,"y":22},{"x":24,"y":23},{"x":22,"y":21.5},{"x":23,"y":20.5},{"x":22,"y":19.5},{"x":24,"y":19},{"x":21,"y":18},{"x":23,"y":17},{"x":24,"y":16.5},{"x":22,"y":15},{"x":21,"y":13.5},{"x":23,"y":12.5},{"x":22,"y":10.5},{"x":21,"y":9},{"x":24,"y":9.5},{"x":22,"y":8},{"x":23,"y":7},{"x":21,"y":6},{"x":22,"y":5.8},{"x":23,"y":4},{"x":22,"y":3},{"x":22,"y":1.4},{"x":24,"y":6.5},{"x":20,"y":10.5},
      {"x":25,"y":29.5},{"x":26,"y":30},{"x":27,"y":28.5},{"x":28,"y":29},{"x":29,"y":28.5},{"x":25,"y":27.5},{"x":26,"y":27},{"x":27,"y":26.5},{"x":28,"y":26},{"x":29,"y":26.5},{"x":30,"y":27},{"x":25,"y":25.5},{"x":26,"y":25},{"x":27,"y":24.5},{"x":28,"y":24},{"x":29,"y":24.5},{"x":30,"y":25},{"x":25,"y":23.5},{"x":27,"y":23},{"x":29,"y":22.5},{"x":26,"y":22},{"x":28,"y":21.5},{"x":30,"y":22},{"x":25,"y":21},{"x":27,"y":20.5},{"x":29,"y":20},{"x":26,"y":19.5},{"x":28,"y":19},{"x":30,"y":19.5},{"x":25,"y":18},{"x":27,"y":17.5},{"x":29,"y":17},{"x":26,"y":16},{"x":28,"y":15.5},{"x":30,"y":16},{"x":25,"y":14.5},{"x":27,"y":14},{"x":29,"y":13.5},{"x":26,"y":12.5},{"x":28,"y":12},{"x":30,"y":12.5},{"x":25,"y":11},{"x":27,"y":10.5},{"x":29,"y":10},{"x":26,"y":9},{"x":28,"y":8.5},{"x":30,"y":9},{"x":25,"y":7.5},{"x":27,"y":7},{"x":29,"y":6.5},{"x":26,"y":5.5},{"x":28,"y":5},{"x":30,"y":5.5},{"x":26,"y":4},{"x":28,"y":3.5},{"x":30,"y":4},{"x":27,"y":6},
      {"x":31,"y":28},{"x":33,"y":26.5},{"x":35,"y":28},{"x":32,"y":25},{"x":34,"y":25},{"x":36,"y":24.5},{"x":38,"y":23.5},{"x":31,"y":23},{"x":33,"y":23},{"x":35,"y":22.5},{"x":37,"y":22},{"x":39,"y":22},{"x":32,"y":21},{"x":34,"y":21},{"x":36,"y":20.5},{"x":38,"y":20.5},{"x":40,"y":21},{"x":31,"y":19.5},{"x":33,"y":19},{"x":35,"y":19},{"x":37,"y":18.5},{"x":39,"y":18.5},{"x":32,"y":17.5},{"x":34,"y":17},{"x":36,"y":17},{"x":38,"y":16.5},{"x":40,"y":17},{"x":31,"y":16},{"x":33,"y":15.5},{"x":35,"y":15},{"x":37,"y":15},{"x":39,"y":14.5},{"x":32,"y":14},{"x":34,"y":13.5},{"x":36,"y":13.5},{"x":38,"y":13},{"x":40,"y":13.5},{"x":31,"y":12.5},{"x":33,"y":12},{"x":35,"y":11.5},{"x":37,"y":11.5},{"x":39,"y":11},{"x":32,"y":10.5},{"x":34,"y":10},{"x":36,"y":10},{"x":38,"y":9.5},{"x":40,"y":10},{"x":31,"y":9},{"x":33,"y":8.5},{"x":35,"y":8.5},{"x":37,"y":8},{"x":39,"y":8},{"x":32,"y":7},{"x":34,"y":7},{"x":36,"y":6.5},{"x":38,"y":6.5},{"x":40,"y":7},{"x":33,"y":5.5},{"x":35,"y":5},{"x":37,"y":5},{"x":39,"y":5.5},{"x":34,"y":4},{"x":36,"y":3.5},{"x":38,"y":4},{"x":40,"y":4.2},{"x":35,"y":2.5},{"x":37,"y":2.6},{"x":39,"y":3},{"x":40,"y":26.5},
      {"x":41,"y":23.5},{"x":43,"y":23},{"x":45,"y":21.5},{"x":42,"y":21},{"x":44,"y":20},{"x":46,"y":20.5},{"x":48,"y":22.2},{"x":47,"y":22},{"x":41,"y":19},{"x":43,"y":18.5},{"x":45,"y":18},{"x":47,"y":17.5},{"x":49,"y":18},{"x":42,"y":16.5},{"x":44,"y":16},{"x":46,"y":16},{"x":48,"y":15.5},{"x":50,"y":16},{"x":41,"y":15},{"x":43,"y":14.5},{"x":45,"y":14},{"x":47,"y":14},{"x":49,"y":13.5},{"x":42,"y":13},{"x":44,"y":12.5},{"x":46,"y":12},{"x":48,"y":12},{"x":50,"y":12.5},{"x":41,"y":11.5},{"x":43,"y":11},{"x":45,"y":10.5},{"x":47,"y":10.5},{"x":49,"y":10},{"x":42,"y":9.5},{"x":44,"y":9},{"x":46,"y":9},{"x":48,"y":8.5},{"x":50,"y":9},{"x":41,"y":8},{"x":43,"y":7.5},{"x":45,"y":7.5},{"x":47,"y":7},{"x":49,"y":7},{"x":42,"y":6.5},{"x":44,"y":6},{"x":46,"y":6},{"x":48,"y":5.5},{"x":50,"y":6},{"x":41,"y":5},{"x":43,"y":4.5},{"x":45,"y":4.5},{"x":47,"y":4},{"x":49,"y":4.5},{"x":42,"y":3.5},{"x":44,"y":3},{"x":46,"y":3},{"x":48,"y":2.8},{"x":50,"y":3.5},{"x":43,"y":2.2},{"x":45,"y":1.5},{"x":47,"y":1.8},{"x":49,"y":2.2},{"x":50,"y":21},{"x":50,"y":20.5},
      {"x":52,"y":16.5},{"x":54,"y":16.5},{"x":56,"y":18.3},{"x":57,"y":17.5},{"x":58,"y":17.8},{"x":60,"y":20.3},{"x":59,"y":18.8},{"x":55,"y":15},{"x":53,"y":14.5},{"x":57,"y":14},{"x":51,"y":13.5},{"x":55,"y":13},{"x":59,"y":13},{"x":52,"y":12},{"x":54,"y":11.5},{"x":56,"y":11},{"x":58,"y":11.5},{"x":60,"y":12},{"x":51,"y":10.5},{"x":53,"y":10},{"x":55,"y":10},{"x":57,"y":9.5},{"x":59,"y":10},{"x":52,"y":9},{"x":54,"y":8.5},{"x":56,"y":8.5},{"x":58,"y":8},{"x":60,"y":8.5},{"x":51,"y":7.5},{"x":53,"y":7},{"x":55,"y":7},{"x":57,"y":6.5},{"x":59,"y":7},{"x":52,"y":6},{"x":54,"y":5.5},{"x":56,"y":5.5},{"x":58,"y":5},{"x":60,"y":5.5},{"x":51,"y":4.5},{"x":53,"y":4},{"x":55,"y":4},{"x":57,"y":3.5},{"x":59,"y":4},{"x":52,"y":3},{"x":54,"y":2.5},{"x":56,"y":2.8},{"x":58,"y":2.3},{"x":60,"y":2.8},{"x":53,"y":2},{"x":57,"y":1.8},{"x":59,"y":1.5},
      {"x":61,"y":12},{"x":62,"y":11.5},{"x":62,"y":10.5},{"x":64,"y":8},{"x":66,"y":9.5},{"x":63,"y":7},{"x":61,"y":6.5},{"x":65,"y":6.5},{"x":67,"y":8},{"x":62,"y":5.5},{"x":64,"y":5.5},{"x":66,"y":6},{"x":68,"y":6.5},{"x":61,"y":4.5},{"x":63,"y":4},{"x":65,"y":4.5},{"x":67,"y":4.5},{"x":69,"y":5},{"x":62,"y":3.5},{"x":64,"y":3},{"x":66,"y":3.2},{"x":68,"y":3.5},{"x":63,"y":2.2},{"x":65,"y":2.5},{"x":67,"y":2},{"x":69,"y":2.5},{"x":64,"y":1.5},{"x":68,"y":1.7},{"x":66,"y":1.3},{"x":65,"y":17.2},{"x":66,"y":19.7},{"x":67,"y":19.5},{"x":67,"y":17.8},{"x":66,"y":16.5},{"x":69,"y":15.8},{"x":70,"y":10.5},{"x":70,"y":2},{"x":68,"y":8.3},
      {"x":71,"y":19.3},{"x":70,"y":11.2},{"x":71,"y":10},{"x":72,"y":9.5},{"x":73,"y":9},{"x":71,"y":8},{"x":73,"y":7.5},{"x":72,"y":6.5},{"x":70,"y":6},{"x":74,"y":5.5},{"x":71,"y":4.5},{"x":73,"y":4},{"x":70,"y":3.5},{"x":72,"y":3},{"x":74,"y":2.5},{"x":71,"y":2},{"x":70,"y":1.2},{"x":76,"y":10.8},{"x":77,"y":8.5},{"x":78,"y":6.5},{"x":77,"y":5},{"x":79,"y":4},{"x":80,"y":2.5},{"x":78,"y":2},{"x":82,"y":5},{"x":83,"y":4},{"x":84,"y":3},{"x":82,"y":2.5},{"x":84,"y":6.7},{"x":86,"y":4},{"x":87,"y":3},{"x":80,"y":1.9},{"x":76,"y":2.4},
      {"x":21,"y":26.5},{"x":22,"y":28},{"x":23,"y":27.5},{"x":24,"y":28},{"x":21,"y":24.5},{"x":22,"y":23},{"x":24,"y":21.5},{"x":22,"y":20.5},{"x":23,"y":19},{"x":24,"y":26},{"x":26,"y":28.5},{"x":27,"y":27.5},{"x":28,"y":27.5},{"x":29,"y":27.5},{"x":26,"y":26},{"x":28,"y":25},{"x":30,"y":26},{"x":26,"y":23.5},{"x":28,"y":23},{"x":30,"y":23.5},{"x":26,"y":20.5},{"x":28,"y":20},{"x":30,"y":21},{"x":26,"y":18},{"x":28,"y":17.5},{"x":30,"y":18},{"x":27,"y":16},{"x":29,"y":15},{"x":27,"y":12},{"x":29,"y":12},{"x":27,"y":9},{"x":29,"y":8},{"x":31,"y":21.5},{"x":32,"y":22.5},{"x":33,"y":20},{"x":34,"y":19.5},{"x":35,"y":20.5},{"x":36,"y":19},{"x":37,"y":20},{"x":38,"y":18},{"x":39,"y":19.5},{"x":31,"y":17.5},{"x":33,"y":16.5},{"x":35,"y":16.5},{"x":37,"y":16.5},{"x":39,"y":16},{"x":31,"y":14.5},{"x":33,"y":14},{"x":35,"y":13.5},{"x":37,"y":13.5},{"x":39,"y":13},{"x":31,"y":11},{"x":33,"y":10.5},{"x":35,"y":10},{"x":37,"y":10},{"x":39,"y":9.5},{"x":31,"y":7.5},{"x":33,"y":7.2},{"x":35,"y":7},{"x":37,"y":6.5},{"x":39,"y":6.5},{"x":32,"y":5.5},{"x":34,"y":5.5},{"x":36,"y":5},{"x":38,"y":5.2},{"x":40,"y":5.5},{"x":41,"y":17.5},{"x":43,"y":17},{"x":45,"y":16.5},{"x":47,"y":16},{"x":49,"y":15},{"x":41,"y":13.5},{"x":43,"y":13},{"x":45,"y":12.5},{"x":47,"y":12.5},{"x":49,"y":12},{"x":41,"y":10},{"x":43,"y":9.5},{"x":45,"y":9},{"x":47,"y":9},{"x":49,"y":8.5},{"x":41,"y":6.5},{"x":43,"y":6},{"x":45,"y":6},{"x":47,"y":5.5},{"x":49,"y":5.5},{"x":42,"y":4},{"x":44,"y":4},{"x":46,"y":4.5},{"x":48,"y":3.8},{"x":50,"y":4.5},{"x":42,"y":18},{"x":44,"y":18.5},{"x":46,"y":18},{"x":48,"y":19},{"x":51,"y":12},{"x":53,"y":11.5},{"x":55,"y":11.5},{"x":57,"y":11},{"x":59,"y":11.5},{"x":51,"y":9},{"x":53,"y":8.5},{"x":55,"y":8.5},{"x":57,"y":8},{"x":59,"y":8.5},{"x":51,"y":6},{"x":53,"y":5.5},{"x":55,"y":6},{"x":57,"y":5},{"x":59,"y":5.5},{"x":52,"y":4},{"x":54,"y":3.5},{"x":56,"y":4},{"x":58,"y":3.5},{"x":60,"y":4},{"x":62,"y":9},{"x":64,"y":6.5},{"x":66,"y":7},{"x":62,"y":4.5},{"x":64,"y":4.2},{"x":66,"y":5},{"x":68,"y":4.5},{"x":63,"y":3},{"x":65,"y":3.5},{"x":67,"y":3},{"x":72,"y":5},{"x":74,"y":4},{"x":76,"y":4.5},{"x":75,"y":3}
    ],
    "sd": [
      {"x":0.65,"y":3},{"x":0.7,"y":5},{"x":0.72,"y":7},{"x":0.75,"y":10},{"x":0.8,"y":2},{"x":0.8,"y":4},{"x":0.78,"y":6},{"x":0.82,"y":8},{"x":0.85,"y":11},{"x":0.9,"y":10.5},{"x":0.88,"y":17.7},{"x":0.88,"y":13.8},{"x":0.85,"y":3.2},{"x":0.9,"y":5.5},{"x":0.92,"y":7.5},{"x":0.95,"y":4},{"x":0.95,"y":2.5},{"x":0.97,"y":6},{"x":0.98,"y":9},{"x":1.0,"y":1.5},{"x":0.9,"y":1.8},{"x":0.93,"y":8.2},{"x":0.87,"y":9.5},{"x":0.98,"y":11},
      {"x":1.0,"y":16.5},{"x":1.02,"y":15.5},{"x":1.05,"y":13.8},{"x":1.1,"y":19.5},{"x":1.12,"y":17.5},{"x":1.15,"y":21.5},{"x":1.15,"y":15.8},{"x":1.18,"y":20},{"x":1.2,"y":22},{"x":1.22,"y":18},{"x":1.25,"y":16},{"x":1.28,"y":22.2},{"x":1.3,"y":20.5},{"x":1.32,"y":18.5},{"x":1.35,"y":21},{"x":1.38,"y":17},{"x":1.4,"y":19},{"x":1.42,"y":23},{"x":1.45,"y":20.5},{"x":1.48,"y":18},{"x":1.5,"y":26.5},{"x":1.48,"y":24},{"x":1.45,"y":27},{"x":1.4,"y":25.8},{"x":1.3,"y":26.5},{"x":1.05,"y":11},{"x":1.1,"y":9},{"x":1.12,"y":7},{"x":1.08,"y":5},{"x":1.1,"y":3},{"x":1.12,"y":1.5},{"x":1.15,"y":12.5},{"x":1.2,"y":10.5},{"x":1.22,"y":8.5},{"x":1.18,"y":6},{"x":1.2,"y":4},{"x":1.25,"y":2},{"x":1.28,"y":13.5},{"x":1.3,"y":11},{"x":1.32,"y":9.5},{"x":1.35,"y":7},{"x":1.3,"y":5},{"x":1.35,"y":3},{"x":1.38,"y":15},{"x":1.4,"y":13},{"x":1.42,"y":11},{"x":1.45,"y":9},{"x":1.4,"y":6},{"x":1.45,"y":4},{"x":1.48,"y":2},{"x":1.5,"y":15},{"x":1.5,"y":12},{"x":1.5,"y":7.5},{"x":1.05,"y":7.8},{"x":1.02,"y":3.5},{"x":1.15,"y":14},{"x":1.25,"y":14.5},{"x":1.38,"y":1.5},
      {"x":1.55,"y":22},{"x":1.6,"y":24.5},{"x":1.62,"y":21},{"x":1.65,"y":19},{"x":1.68,"y":23.5},{"x":1.7,"y":25.5},{"x":1.72,"y":28.5},{"x":1.75,"y":26},{"x":1.78,"y":24},{"x":1.8,"y":22.5},{"x":1.82,"y":20},{"x":1.85,"y":23},{"x":1.88,"y":25},{"x":1.9,"y":29.3},{"x":1.92,"y":27.5},{"x":1.95,"y":26},{"x":1.98,"y":24.5},{"x":1.55,"y":17},{"x":1.58,"y":14},{"x":1.6,"y":11.5},{"x":1.62,"y":9},{"x":1.6,"y":6},{"x":1.58,"y":3.5},{"x":1.62,"y":1.5},{"x":1.65,"y":16},{"x":1.68,"y":13.5},{"x":1.7,"y":10},{"x":1.7,"y":7},{"x":1.68,"y":4.5},{"x":1.72,"y":2},{"x":1.75,"y":18},{"x":1.78,"y":15},{"x":1.8,"y":12},{"x":1.82,"y":8.5},{"x":1.8,"y":5.5},{"x":1.8,"y":3},{"x":1.85,"y":17.5},{"x":1.88,"y":14.5},{"x":1.9,"y":11},{"x":1.92,"y":8},{"x":1.9,"y":5},{"x":1.92,"y":2.3},{"x":1.95,"y":19.5},{"x":1.98,"y":16},{"x":1.98,"y":12.5},{"x":2.0,"y":9},{"x":1.98,"y":6},{"x":2.0,"y":3.5},{"x":1.55,"y":20},{"x":1.65,"y":12},{"x":1.75,"y":8},{"x":1.85,"y":10.5},{"x":1.95,"y":14},
      {"x":2.02,"y":26},{"x":2.05,"y":22},{"x":2.08,"y":18},{"x":2.1,"y":15},{"x":2.12,"y":11.5},{"x":2.1,"y":8},{"x":2.08,"y":5},{"x":2.05,"y":3},{"x":2.15,"y":26.5},{"x":2.18,"y":24},{"x":2.2,"y":20.5},{"x":2.22,"y":17},{"x":2.2,"y":13},{"x":2.18,"y":9.5},{"x":2.2,"y":6.5},{"x":2.15,"y":4},{"x":2.25,"y":28},{"x":2.28,"y":25.5},{"x":2.3,"y":22},{"x":2.32,"y":19},{"x":2.3,"y":15.5},{"x":2.32,"y":12},{"x":2.3,"y":8.5},{"x":2.28,"y":6},{"x":2.25,"y":2.5},{"x":2.35,"y":24.5},{"x":2.38,"y":21},{"x":2.4,"y":17.5},{"x":2.42,"y":14},{"x":2.4,"y":10},{"x":2.38,"y":7.5},{"x":2.4,"y":4},{"x":2.42,"y":3.5},{"x":2.45,"y":25.3},{"x":2.48,"y":23.7},{"x":2.45,"y":19},{"x":2.48,"y":16},{"x":2.45,"y":12.5},{"x":2.48,"y":9},{"x":2.02,"y":14},{"x":2.12,"y":20},{"x":2.26,"y":30.2},{"x":2.32,"y":26.5},
      {"x":2.52,"y":23.5},{"x":2.55,"y":27.5},{"x":2.58,"y":26},{"x":2.6,"y":28.5},{"x":2.62,"y":22},{"x":2.55,"y":20},{"x":2.58,"y":17},{"x":2.52,"y":15.5},{"x":2.55,"y":13.5},{"x":2.52,"y":11.5},{"x":2.55,"y":10},{"x":2.6,"y":18.5},{"x":2.62,"y":14.5},{"x":2.65,"y":12.5},{"x":2.62,"y":8.5},{"x":2.58,"y":7},{"x":2.6,"y":6},{"x":2.65,"y":26.5},{"x":2.68,"y":24.5},{"x":2.7,"y":28},{"x":2.72,"y":21},{"x":2.75,"y":13},{"x":2.72,"y":9.5},{"x":2.78,"y":7.5},{"x":2.8,"y":26},{"x":2.82,"y":28.5},{"x":2.85,"y":25.5},{"x":2.88,"y":22},{"x":2.85,"y":19},{"x":2.9,"y":17},{"x":2.88,"y":13.5},{"x":2.92,"y":13},{"x":2.88,"y":3.5},{"x":2.87,"y":2.5},{"x":2.92,"y":28.5},{"x":2.95,"y":26},{"x":2.98,"y":24.5},{"x":2.96,"y":22},{"x":2.8,"y":13.5},{"x":2.65,"y":18},
      {"x":3.02,"y":29.8},{"x":3.05,"y":26.5},{"x":3.0,"y":20.8},{"x":3.0,"y":19.5},{"x":3.0,"y":18},{"x":3.08,"y":15.9},{"x":3.08,"y":13.8},{"x":3.1,"y":29},{"x":3.12,"y":24},{"x":3.15,"y":28.5},{"x":3.2,"y":27},{"x":3.25,"y":3.8},{"x":3.3,"y":24.5},{"x":3.4,"y":29},{"x":3.48,"y":27.3},{"x":3.5,"y":29.8},{"x":3.52,"y":30},{"x":3.56,"y":29.7},{"x":3.55,"y":25.2},{"x":3.57,"y":19.3},{"x":3.65,"y":23},{"x":3.8,"y":18.7},{"x":3.8,"y":26},{"x":3.85,"y":28.5},{"x":3.9,"y":29},{"x":4.0,"y":13.1},{"x":3.1,"y":25.3},
      {"x":1.02,"y":9.5},{"x":1.05,"y":6},{"x":1.08,"y":12.5},{"x":1.1,"y":10.5},{"x":1.12,"y":4.5},{"x":1.15,"y":8.5},{"x":1.18,"y":2.5},{"x":1.2,"y":13},{"x":1.22,"y":15.5},{"x":1.25,"y":6.5},{"x":1.25,"y":9.8},{"x":1.28,"y":3.5},{"x":1.28,"y":11.5},{"x":1.3,"y":7.5},{"x":1.32,"y":16},{"x":1.35,"y":12.5},{"x":1.35,"y":5},{"x":1.38,"y":9},{"x":1.38,"y":19.5},{"x":1.4,"y":3.5},{"x":1.42,"y":7.8},{"x":1.42,"y":15.5},{"x":1.45,"y":11.8},{"x":1.45,"y":6.5},{"x":1.48,"y":13.5},{"x":1.48,"y":3},{"x":1.5,"y":9.5},{"x":1.5,"y":17.5},{"x":1.52,"y":5},{"x":1.52,"y":11},{"x":1.55,"y":7},{"x":1.55,"y":13},{"x":1.55,"y":2.5},{"x":1.58,"y":9},{"x":1.58,"y":15.5},{"x":1.58,"y":19},{"x":1.6,"y":4.5},{"x":1.6,"y":13},{"x":1.62,"y":7.5},{"x":1.62,"y":17.5},{"x":1.65,"y":10.5},{"x":1.65,"y":3},{"x":1.65,"y":14.5},{"x":1.68,"y":6},{"x":1.68,"y":20.5},{"x":1.7,"y":12.5},{"x":1.7,"y":16.5},{"x":1.72,"y":4},{"x":1.72,"y":9},{"x":1.75,"y":11},{"x":1.75,"y":14},{"x":1.75,"y":21},{"x":1.78,"y":6.5},{"x":1.78,"y":19},{"x":1.8,"y":9.5},{"x":1.82,"y":13.5},{"x":1.82,"y":4},{"x":1.85,"y":7},{"x":1.85,"y":15.5},{"x":1.88,"y":11.5},{"x":1.88,"y":21},{"x":1.9,"y":3.5},{"x":1.9,"y":17},{"x":1.92,"y":9.5},{"x":1.95,"y":6.5},{"x":1.95,"y":11.5},{"x":1.98,"y":18},{"x":2.0,"y":13},{"x":2.02,"y":7},{"x":2.05,"y":10},{"x":2.05,"y":17},{"x":2.08,"y":12.5},{"x":2.1,"y":20},{"x":2.12,"y":6},{"x":2.15,"y":15},{"x":2.18,"y":11},{"x":2.2,"y":22.5},{"x":2.25,"y":17.5},{"x":2.28,"y":13},{"x":2.35,"y":10.5},{"x":2.35,"y":19.5},{"x":2.4,"y":22.5},{"x":2.45,"y":15},{"x":0.95,"y":7},{"x":0.82,"y":5},{"x":0.88,"y":6.8},{"x":0.92,"y":3}
    ],
    "se": [
      {"x":35.5,"y":28.5},{"x":37,"y":26},{"x":38.5,"y":28.8},{"x":39,"y":28.3},{"x":40,"y":27.5},{"x":41,"y":26.5},{"x":42,"y":29.2},{"x":42.5,"y":27.5},{"x":43,"y":28},{"x":43.5,"y":26.5},{"x":44,"y":25},{"x":43,"y":24},{"x":43,"y":23.5},{"x":44.5,"y":26},{"x":45,"y":25.8},{"x":43,"y":19.8},{"x":44,"y":19.5},{"x":43.5,"y":18},{"x":44,"y":17},{"x":43.5,"y":16.3},{"x":44.5,"y":15.5},{"x":43.5,"y":11.2},{"x":42,"y":19},{"x":45,"y":23.5},{"x":45,"y":20},{"x":44.5,"y":21},
      {"x":46,"y":26.5},{"x":46.5,"y":28.5},{"x":47,"y":25},{"x":47.5,"y":24.5},{"x":48,"y":29.8},{"x":48,"y":23.5},{"x":48.5,"y":22.5},{"x":46,"y":21.5},{"x":46.5,"y":19},{"x":47,"y":18.5},{"x":46,"y":16},{"x":47,"y":14.5},{"x":46,"y":14},{"x":45.5,"y":13.3},{"x":47.5,"y":13.8},{"x":48,"y":10},{"x":48.5,"y":6.5},{"x":49,"y":12.5},{"x":49.5,"y":22.5},{"x":49,"y":25},{"x":50,"y":29.6},{"x":51,"y":29.6},{"x":51,"y":27},{"x":52,"y":25.8},{"x":52,"y":21.5},{"x":51.5,"y":23},{"x":52,"y":19},{"x":53,"y":20.5},{"x":52.5,"y":16.5},{"x":53,"y":13.5},{"x":52,"y":11.3},{"x":51,"y":11.3},{"x":52.5,"y":9.3},{"x":51.5,"y":8.5},{"x":53,"y":30},{"x":53.5,"y":29.2},{"x":54,"y":24.5},{"x":54.5,"y":23.5},{"x":54,"y":21.5},{"x":55,"y":19.5},{"x":54.5,"y":17},{"x":55,"y":15},{"x":54,"y":14},{"x":55,"y":12},{"x":54.5,"y":10.8},{"x":55,"y":10},
      {"x":55.5,"y":28.5},{"x":56,"y":27},{"x":56.5,"y":26},{"x":57,"y":25},{"x":57.5,"y":30.2},{"x":57.5,"y":24},{"x":58,"y":23.5},{"x":57,"y":21},{"x":58,"y":20},{"x":56,"y":18},{"x":57,"y":16.5},{"x":58,"y":15},{"x":56,"y":13},{"x":57,"y":11.5},{"x":58,"y":10},{"x":56.5,"y":8.5},{"x":57,"y":6.8},{"x":58.5,"y":8.5},{"x":59,"y":18},{"x":59,"y":22},{"x":60,"y":26.5},{"x":60,"y":28},{"x":61,"y":26},{"x":61,"y":23.5},{"x":62,"y":22},{"x":61,"y":20.5},{"x":62,"y":19},{"x":63,"y":21},{"x":62.5,"y":17},{"x":63,"y":15},{"x":61.5,"y":13.5},{"x":63,"y":12},{"x":62,"y":10},{"x":63,"y":8.5},{"x":62,"y":7.5},{"x":61,"y":6},{"x":62,"y":4.5},{"x":60.5,"y":4},{"x":59.5,"y":4.5},{"x":63.5,"y":25.5},{"x":64,"y":24},{"x":64.5,"y":22.5},{"x":65,"y":20.5},{"x":64,"y":18.5},{"x":65,"y":16},{"x":64.5,"y":14},{"x":64,"y":11},{"x":65,"y":9.5},{"x":64,"y":7},{"x":65,"y":5},{"x":64.5,"y":3.5},{"x":60,"y":12.5},{"x":59,"y":15.5},
      {"x":65.5,"y":28},{"x":66,"y":26},{"x":67,"y":24.5},{"x":67.5,"y":27},{"x":68,"y":28.7},{"x":68.5,"y":26.5},{"x":69,"y":25.5},{"x":66,"y":22},{"x":67,"y":20},{"x":68,"y":22.5},{"x":69,"y":21},{"x":70,"y":23},{"x":66,"y":18},{"x":67,"y":16},{"x":68,"y":17.5},{"x":69,"y":15.5},{"x":70,"y":19},{"x":71,"y":17.5},{"x":72,"y":21},{"x":73,"y":19},{"x":66,"y":13},{"x":67,"y":11.5},{"x":68,"y":13.5},{"x":69,"y":12},{"x":70,"y":14},{"x":71,"y":13},{"x":72,"y":15},{"x":73,"y":16.5},{"x":74,"y":18},{"x":66,"y":9},{"x":67,"y":7.5},{"x":68,"y":9.5},{"x":69,"y":8},{"x":70,"y":10},{"x":71,"y":9},{"x":72,"y":11},{"x":73,"y":12},{"x":74,"y":13.5},{"x":75,"y":15},{"x":66,"y":5.5},{"x":67,"y":4},{"x":68,"y":5.5},{"x":69,"y":4.5},{"x":70,"y":6},{"x":71,"y":5},{"x":72,"y":6.5},{"x":73,"y":7.5},{"x":74,"y":9},{"x":75,"y":10.5},{"x":67,"y":2.8},{"x":69,"y":3},{"x":71,"y":3.5},{"x":73,"y":4},{"x":75,"y":5.5},{"x":72,"y":2.6},{"x":74,"y":3},{"x":71,"y":26},{"x":72,"y":22.5},{"x":73,"y":24},{"x":74,"y":20.5},{"x":75,"y":19.5},{"x":71,"y":25},
      {"x":76,"y":21},{"x":77,"y":24.2},{"x":78,"y":22},{"x":79,"y":23.5},{"x":80,"y":24.5},{"x":81,"y":23.3},{"x":77,"y":19},{"x":78,"y":17.5},{"x":79,"y":20},{"x":80,"y":21.5},{"x":81,"y":19.5},{"x":82,"y":20.5},{"x":83,"y":21},{"x":84,"y":18},{"x":85,"y":20.5},{"x":76,"y":16},{"x":77,"y":14.5},{"x":78,"y":16},{"x":79,"y":13},{"x":80,"y":15},{"x":81,"y":16.5},{"x":82,"y":15},{"x":83,"y":17},{"x":84,"y":16},{"x":85,"y":14.5},{"x":76,"y":12},{"x":77,"y":11},{"x":78,"y":12.5},{"x":79,"y":10},{"x":80,"y":11.5},{"x":81,"y":13},{"x":82,"y":12},{"x":83,"y":11},{"x":84,"y":13},{"x":85,"y":12},{"x":76,"y":9},{"x":77,"y":7.5},{"x":78,"y":9},{"x":79,"y":6.5},{"x":80,"y":8},{"x":81,"y":9.5},{"x":82,"y":8.5},{"x":83,"y":7},{"x":84,"y":9},{"x":85,"y":10},{"x":76,"y":6},{"x":77,"y":4.5},{"x":78,"y":5.5},{"x":79,"y":3.5},{"x":80,"y":5},{"x":81,"y":6},{"x":82,"y":4.5},{"x":83,"y":5.5},{"x":84,"y":6.5},{"x":85,"y":7.5},{"x":76,"y":3},{"x":77,"y":2},{"x":78,"y":2.5},{"x":80,"y":2.2},{"x":81,"y":3},{"x":82,"y":2},{"x":83,"y":3},{"x":84,"y":3.5},{"x":85,"y":4.5},{"x":79,"y":1.8},{"x":83,"y":1.6},{"x":85,"y":2.2},
      {"x":86,"y":17.5},{"x":87,"y":19},{"x":88,"y":20.3},{"x":88.5,"y":19},{"x":88,"y":16.2},{"x":87,"y":14.5},{"x":86,"y":12.5},{"x":88,"y":13},{"x":89,"y":11.5},{"x":90,"y":12},{"x":91,"y":12},{"x":92,"y":8.5},{"x":93,"y":8},{"x":86,"y":9.5},{"x":87,"y":8},{"x":88,"y":9},{"x":89,"y":7},{"x":90,"y":8.5},{"x":91,"y":6.5},{"x":92,"y":6},{"x":93,"y":5},{"x":94,"y":4},{"x":86,"y":6},{"x":87,"y":5},{"x":88,"y":4},{"x":89,"y":5},{"x":90,"y":3.5},{"x":91,"y":4},{"x":92,"y":3},{"x":93,"y":2.5},{"x":94,"y":2.5},{"x":86,"y":3},{"x":87,"y":2},{"x":88,"y":1.5},{"x":89,"y":1.2},{"x":90,"y":2},{"x":91,"y":1.5},{"x":92,"y":1.8},{"x":93,"y":1.5},{"x":86,"y":11},{"x":87,"y":10.5},{"x":88,"y":7},{"x":89,"y":3},{"x":93.5,"y":4.2},{"x":92.5,"y":7.2},
      {"x":66,"y":11},{"x":67,"y":13.5},{"x":68,"y":11},{"x":69,"y":10},{"x":70,"y":12},{"x":71,"y":11},{"x":72,"y":9},{"x":73,"y":10},{"x":74,"y":11.5},{"x":75,"y":13},{"x":66,"y":7},{"x":67,"y":9.5},{"x":68,"y":7.5},{"x":69,"y":6},{"x":70,"y":8},{"x":71,"y":7},{"x":72,"y":8},{"x":73,"y":6},{"x":74,"y":7},{"x":75,"y":8.5},{"x":76,"y":10.5},{"x":77,"y":9.5},{"x":78,"y":10.5},{"x":79,"y":8},{"x":80,"y":9.5},{"x":81,"y":11},{"x":82,"y":10},{"x":83,"y":9},{"x":84,"y":11},{"x":85,"y":8.5},{"x":76,"y":7.5},{"x":77,"y":6},{"x":78,"y":7},{"x":79,"y":5},{"x":80,"y":6.5},{"x":81,"y":7.5},{"x":82,"y":6.5},{"x":83,"y":8},{"x":84,"y":7.8},{"x":85,"y":6},{"x":76,"y":4.5},{"x":77,"y":3.2},{"x":78,"y":4},{"x":79,"y":2.5},{"x":80,"y":3.5},{"x":81,"y":4.5},{"x":82,"y":3.3},{"x":83,"y":4.2},{"x":84,"y":5},{"x":85,"y":3.2},{"x":86,"y":7.5},{"x":87,"y":6.5},{"x":88,"y":5.5},{"x":89,"y":4},{"x":90,"y":6.5},{"x":91,"y":5},{"x":92,"y":4.5},{"x":93,"y":3.5},{"x":86,"y":4.5},{"x":87,"y":3.5},{"x":88,"y":2.8},{"x":89,"y":2.2},{"x":90,"y":5},{"x":91,"y":3},{"x":92,"y":2.2},{"x":86,"y":2},{"x":87,"y":1.3},{"x":90,"y":1.3},{"x":94,"y":3.5},{"x":93,"y":6.5},{"x":91,"y":8},{"x":89,"y":9.5},{"x":87,"y":12},{"x":72,"y":13.5},{"x":70,"y":16.5},{"x":68,"y":15},{"x":74,"y":15.5},{"x":76,"y":14},{"x":78,"y":14},{"x":80,"y":13},{"x":82,"y":14},{"x":84,"y":14.5},{"x":78,"y":19.5},{"x":80,"y":18},{"x":82,"y":17.5},{"x":84,"y":20},{"x":71,"y":20},{"x":69,"y":18.5},{"x":73,"y":21.5},{"x":75,"y":17},{"x":77,"y":16.5},{"x":66,"y":15},{"x":64,"y":12.5},{"x":63,"y":10.5},{"x":62,"y":13},{"x":61,"y":11},{"x":60,"y":9},{"x":61,"y":8},{"x":59,"y":10.5},{"x":60,"y":15},{"x":58,"y":13},{"x":56,"y":15.5},{"x":55,"y":17.5},{"x":54,"y":19},{"x":56,"y":20.5},{"x":57,"y":22.5},{"x":53,"y":18},{"x":52,"y":14.5},{"x":50,"y":16},{"x":50,"y":19.5},{"x":48,"y":17.5},{"x":48,"y":15.5},{"x":49,"y":20.5},
      {"x":77,"y":13},{"x":79,"y":11.5},{"x":81,"y":10},{"x":83,"y":12.5},{"x":85,"y":11},{"x":87,"y":9},{"x":89,"y":8},{"x":91,"y":9.5},{"x":76,"y":11},{"x":78,"y":8},{"x":80,"y":7},{"x":82,"y":7.5},{"x":84,"y":8.5},{"x":86,"y":8.5},{"x":88,"y":6.5},{"x":90,"y":7.3},{"x":92,"y":5.3},{"x":77,"y":5.2},{"x":79,"y":4.3},{"x":81,"y":5.2},{"x":83,"y":6.5},{"x":85,"y":5.3},{"x":87,"y":4.3},{"x":89,"y":6},{"x":91,"y":4.5},{"x":93,"y":4.5},{"x":78,"y":3.3},{"x":80,"y":4.2},{"x":82,"y":2.7},{"x":84,"y":4},{"x":86,"y":3.8},{"x":88,"y":3.5},{"x":90,"y":2.8},{"x":92,"y":3.8},{"x":84,"y":2.3},{"x":86,"y":5.2},{"x":88,"y":2.2},{"x":89,"y":1.5},{"x":91,"y":2.3},{"x":72,"y":4.8},{"x":70,"y":7},{"x":68,"y":6.5},{"x":70,"y":4.5},{"x":74,"y":5.5},{"x":73,"y":8.8},{"x":71,"y":12},{"x":69,"y":13.5},{"x":67,"y":10}
    ],
    "sf": [
      {"x":3,"y":12.5},{"x":2.5,"y":9.5},{"x":4,"y":11},{"x":4.5,"y":4.3},{"x":5,"y":6.5},{"x":5.5,"y":5.5},{"x":4.8,"y":8.8},{"x":5,"y":8},{"x":3.5,"y":5},{"x":5.5,"y":3.5},{"x":5.8,"y":4.5},
      {"x":5.2,"y":13.8},{"x":5.5,"y":15.3},{"x":5.3,"y":10.5},{"x":5.7,"y":13.5},{"x":6,"y":18.5},{"x":6,"y":8.5},{"x":6,"y":6},{"x":6.2,"y":4.5},{"x":6.5,"y":2.5},{"x":6.8,"y":10.5},{"x":6.5,"y":12.5},{"x":6.8,"y":17},{"x":6.6,"y":21.5},{"x":7.3,"y":23.8},{"x":7.5,"y":16.5},{"x":7.2,"y":9},{"x":7,"y":7},{"x":7,"y":5},{"x":7.2,"y":3},{"x":7,"y":1.2},{"x":6.2,"y":1},{"x":7.8,"y":13},{"x":8,"y":11},{"x":8,"y":8},{"x":8,"y":6},{"x":8,"y":4},{"x":8,"y":2},{"x":8.5,"y":26},{"x":8.7,"y":26.4},{"x":8.5,"y":20},{"x":8.8,"y":20.8},{"x":8.5,"y":15.5},{"x":8.6,"y":12.5},{"x":8.8,"y":9},{"x":8.8,"y":7},{"x":8.8,"y":5},{"x":8.6,"y":3},{"x":8.9,"y":1.5},{"x":9,"y":24.3},{"x":9.2,"y":30.3},{"x":9.5,"y":26.5},{"x":9.6,"y":25.8},{"x":9.2,"y":19.8},{"x":9.4,"y":17},{"x":9.3,"y":14},{"x":9.5,"y":11},{"x":9.5,"y":8.5},{"x":9.3,"y":6.5},{"x":9.5,"y":4.5},{"x":9.3,"y":2.8},{"x":9.6,"y":1.5},{"x":9.8,"y":20.5},{"x":9.8,"y":13.5},
      {"x":10.2,"y":25.5},{"x":10.3,"y":25},{"x":10.2,"y":20.3},{"x":10.5,"y":19},{"x":10.5,"y":16.5},{"x":10.2,"y":12},{"x":10.5,"y":9.5},{"x":10.3,"y":7.5},{"x":10.4,"y":5.5},{"x":10.6,"y":3.5},{"x":10.5,"y":1.8},{"x":11,"y":20.5},{"x":11.3,"y":20.8},{"x":11.7,"y":27},{"x":11,"y":16},{"x":11,"y":13},{"x":11.2,"y":10.5},{"x":11.2,"y":8},{"x":11,"y":6.5},{"x":11,"y":4},{"x":11.2,"y":2.5},{"x":11.5,"y":1.3},{"x":12,"y":15},{"x":12,"y":12},{"x":12,"y":9},{"x":12,"y":6.5},{"x":12,"y":4.5},{"x":12,"y":3},{"x":12.5,"y":18.6},{"x":12.5,"y":14},{"x":12.7,"y":10.5},{"x":12.8,"y":8},{"x":13,"y":5.5},{"x":13,"y":2.5},{"x":13.5,"y":16.5},{"x":13.8,"y":22},{"x":13.5,"y":12.5},{"x":13.5,"y":9.5},{"x":13.7,"y":7},{"x":13.8,"y":4},{"x":14,"y":17.5},{"x":14.2,"y":14.5},{"x":14.3,"y":11},{"x":14.5,"y":8.5},{"x":14.5,"y":6},{"x":14.3,"y":3.5},{"x":14.8,"y":12.5},{"x":14.8,"y":2},
      {"x":15.5,"y":26.7},{"x":15.7,"y":21.8},{"x":15.8,"y":21.5},{"x":15.5,"y":17.5},{"x":15.2,"y":15},{"x":15.5,"y":13},{"x":15.2,"y":10},{"x":15.5,"y":7.5},{"x":15.3,"y":5},{"x":15.5,"y":3},{"x":16,"y":19},{"x":16.2,"y":16.5},{"x":16.5,"y":14},{"x":16.2,"y":11.5},{"x":16.5,"y":9},{"x":16.3,"y":6.5},{"x":16.5,"y":4.5},{"x":16.8,"y":2},{"x":17,"y":28},{"x":17,"y":18},{"x":17.2,"y":13.5},{"x":17.5,"y":11},{"x":17.3,"y":8},{"x":17.5,"y":6},{"x":17.5,"y":3.5},{"x":18,"y":17.5},{"x":18.2,"y":15},{"x":18.5,"y":20.3},{"x":18.3,"y":19.5},{"x":18.5,"y":12.5},{"x":18.2,"y":10},{"x":18.5,"y":7.5},{"x":18.4,"y":5},{"x":18.5,"y":2.5},{"x":19,"y":14.5},{"x":19.2,"y":17},{"x":19.5,"y":12},{"x":19.3,"y":9.5},{"x":19.5,"y":6.5},{"x":19.8,"y":4},{"x":19.5,"y":21.8},
      {"x":20,"y":18.5},{"x":20.2,"y":16},{"x":20.5,"y":13.5},{"x":20.2,"y":11},{"x":20.5,"y":8.5},{"x":20,"y":6},{"x":20.3,"y":3.5},{"x":20.5,"y":2.5},{"x":21,"y":23.2},{"x":21.2,"y":23.4},{"x":21,"y":19.5},{"x":21.3,"y":15},{"x":21.5,"y":12.5},{"x":21.5,"y":9.5},{"x":21.3,"y":7},{"x":21.5,"y":4.5},{"x":21.2,"y":3},{"x":22,"y":20.5},{"x":22.2,"y":17.5},{"x":22.5,"y":14.5},{"x":22.5,"y":11.5},{"x":22.3,"y":8.5},{"x":22.5,"y":6},{"x":22.5,"y":3.5},{"x":22.8,"y":27.3},{"x":22.5,"y":26},{"x":23,"y":21},{"x":23.2,"y":18},{"x":23.5,"y":13},{"x":23.2,"y":10},{"x":23.5,"y":7.5},{"x":23.3,"y":5},{"x":23.8,"y":24.5},{"x":24,"y":22.5},{"x":24,"y":19},{"x":24.3,"y":16},{"x":24.5,"y":12.5},{"x":24.3,"y":9.5},{"x":24.5,"y":7},{"x":24.5,"y":4.5},{"x":24.8,"y":25.3},{"x":24.8,"y":20.5},
      {"x":25,"y":23.5},{"x":25.2,"y":18.5},{"x":25.5,"y":15.5},{"x":25.2,"y":13},{"x":25.5,"y":10.5},{"x":25.3,"y":8},{"x":25.5,"y":5.5},{"x":25.2,"y":3},{"x":26,"y":24.8},{"x":26,"y":21},{"x":26.2,"y":17},{"x":26.5,"y":14},{"x":26.3,"y":11.5},{"x":26.5,"y":9},{"x":26.5,"y":6.5},{"x":26.2,"y":4.5},{"x":27,"y":25.4},{"x":27,"y":22},{"x":27.2,"y":19},{"x":27.5,"y":16.5},{"x":27.5,"y":12.5},{"x":27.3,"y":10},{"x":27.5,"y":7.5},{"x":27.5,"y":5.5},{"x":27.3,"y":3.7},{"x":28,"y":26.7},{"x":28.3,"y":26.7},{"x":28,"y":23.5},{"x":28.2,"y":20.5},{"x":28.5,"y":18},{"x":28.5,"y":14},{"x":28.3,"y":11},{"x":28.5,"y":8.5},{"x":28.5,"y":6.5},{"x":29,"y":27},{"x":29,"y":24.5},{"x":29.2,"y":21.5},{"x":29.3,"y":19},{"x":29.5,"y":16.5},{"x":29.5,"y":12.5},{"x":29.2,"y":9.5},{"x":29.3,"y":7},{"x":29,"y":4},{"x":28.7,"y":28.7},{"x":29.7,"y":28},{"x":29.8,"y":25.5},
      {"x":30,"y":26},{"x":30.2,"y":23},{"x":30.5,"y":20.5},{"x":30.5,"y":18},{"x":30.2,"y":15},{"x":30.5,"y":12.5},{"x":30,"y":9.5},{"x":30,"y":7.7},{"x":31,"y":24.5},{"x":31,"y":21.5},{"x":31.2,"y":19},{"x":31.5,"y":16},{"x":31,"y":13},{"x":31,"y":9},{"x":31.5,"y":28.5},{"x":31.8,"y":30},{"x":32,"y":29.5},{"x":32.5,"y":27},{"x":32.2,"y":24},{"x":32.5,"y":21},{"x":32.3,"y":18},{"x":32.5,"y":14.5},{"x":32.2,"y":10.5},{"x":32.5,"y":9},{"x":33,"y":27.5},{"x":33,"y":25},{"x":33.2,"y":22},{"x":33.5,"y":18.5},{"x":33,"y":15},{"x":33.5,"y":12},{"x":33,"y":10},{"x":33.5,"y":29},{"x":34,"y":26.5},{"x":34,"y":23},{"x":34.2,"y":20.5},{"x":34,"y":17},{"x":34.5,"y":14.5},{"x":34.5,"y":10.2},{"x":34.8,"y":22.5},{"x":35,"y":16.5},{"x":35.3,"y":18.5},{"x":35.5,"y":21},{"x":35.5,"y":26.5},{"x":35.8,"y":28},{"x":35.5,"y":13.2},{"x":35.8,"y":11.2},{"x":36,"y":23.8},{"x":36,"y":19.8},{"x":36.2,"y":28.7},{"x":36.5,"y":28.3},{"x":36.5,"y":26},{"x":36.8,"y":24.8},
      {"x":6.5,"y":4},{"x":6.8,"y":6.5},{"x":7.2,"y":2},{"x":7.5,"y":4},{"x":7.5,"y":6},{"x":7.5,"y":8},{"x":7.8,"y":3},{"x":7.8,"y":5},{"x":8.2,"y":7},{"x":8.2,"y":3.5},{"x":8.3,"y":5.5},{"x":8.4,"y":9.5},{"x":8.5,"y":1.8},{"x":8.7,"y":4},{"x":8.9,"y":6},{"x":9,"y":3},{"x":9,"y":8},{"x":9.1,"y":5.5},{"x":9.2,"y":9.5},{"x":9.4,"y":2},{"x":9.6,"y":3.5},{"x":9.7,"y":5.5},{"x":9.7,"y":7.5},{"x":9.8,"y":10},{"x":10,"y":2.5},{"x":10,"y":4.5},{"x":10,"y":6.5},{"x":10,"y":8.5},{"x":10.2,"y":3.5},{"x":10.4,"y":10.5},{"x":10.5,"y":6},{"x":10.6,"y":2},{"x":10.8,"y":4.8},{"x":10.8,"y":7},{"x":10.9,"y":9},{"x":11,"y":2},{"x":11.3,"y":3.2},{"x":11.3,"y":5.5},{"x":11.5,"y":7.5},{"x":11.5,"y":9.5},{"x":11.7,"y":2.2},{"x":11.8,"y":4},{"x":11.8,"y":6},{"x":12.2,"y":2},{"x":12.3,"y":5},{"x":12.3,"y":7.5},{"x":12.5,"y":3.5},{"x":12.8,"y":6},{"x":13,"y":4},{"x":13.2,"y":8.5},{"x":13.3,"y":3},{"x":13.5,"y":5.5},{"x":14,"y":6.5},{"x":14,"y":4.5},{"x":14.5,"y":10},{"x":15,"y":8.5},{"x":15.8,"y":9},{"x":16,"y":5.5},{"x":16.8,"y":7.5},{"x":17,"y":5},{"x":17.8,"y":9},{"x":18,"y":6},{"x":18.8,"y":8},{"x":19,"y":5.5},{"x":20,"y":10},{"x":20.5,"y":7.5},{"x":21,"y":5.5},{"x":21.8,"y":10.5},{"x":22,"y":8},{"x":22.8,"y":12.5},{"x":23,"y":9},{"x":23.5,"y":6.5},{"x":24,"y":11},{"x":24,"y":8},{"x":24.5,"y":13.5},{"x":25,"y":9},{"x":25.5,"y":12},{"x":25.8,"y":7},{"x":26,"y":10.5},{"x":26.3,"y":13},{"x":26.8,"y":8},{"x":27,"y":11},{"x":27.2,"y":14.5},{"x":28,"y":9.5},{"x":28,"y":13},{"x":28.8,"y":16},{"x":29,"y":11.5},{"x":29.8,"y":14.5},{"x":30,"y":17},{"x":30.5,"y":19.5},{"x":31,"y":22.5},{"x":31.5,"y":20},{"x":31,"y":17},{"x":32,"y":26},{"x":32.8,"y":23},{"x":33.3,"y":20},{"x":32,"y":16},{"x":33.8,"y":16},{"x":34.2,"y":18.5},{"x":34.5,"y":24.5},{"x":33,"y":19},{"x":30.8,"y":25.5},{"x":29.5,"y":23},{"x":28.5,"y":21.5},{"x":27.8,"y":18},{"x":26.5,"y":19},{"x":25.5,"y":20},{"x":24.5,"y":17.5},{"x":23,"y":15.5},{"x":22,"y":13},{"x":21,"y":10.5},{"x":20,"y":14},{"x":19,"y":11},{"x":18,"y":13},{"x":17,"y":16},{"x":16,"y":13},{"x":15,"y":11.5},{"x":14,"y":13},
      {"x":6.8,"y":3},{"x":7.3,"y":5.5},{"x":7.6,"y":7},{"x":7.8,"y":9.5},{"x":8.2,"y":2.5},{"x":8.4,"y":4.5},{"x":8.5,"y":6.5},{"x":8.7,"y":8.2},{"x":9.1,"y":4},{"x":9.2,"y":2.3},{"x":9.4,"y":6},{"x":9.5,"y":7},{"x":9.9,"y":3},{"x":9.9,"y":5},{"x":10.1,"y":7.5},{"x":10.3,"y":9},{"x":10.4,"y":2.8},{"x":10.7,"y":4},{"x":10.7,"y":5.2},{"x":11,"y":8.5},{"x":11.1,"y":3},{"x":11.4,"y":4.5},{"x":11.6,"y":6.5},{"x":11.9,"y":8.5},{"x":12.1,"y":3.8},{"x":12.4,"y":6.2},{"x":12.6,"y":2.8},{"x":12.9,"y":4.8},{"x":13.1,"y":7},{"x":13.6,"y":4.8},{"x":10.1,"y":1.6},{"x":9.1,"y":1.2},{"x":8.2,"y":1.3},{"x":12.8,"y":1.6}
    ]
  },
  "concat": [
    {
      "width": 581, "height": 464,
      "title": {"text": "(a)", "anchor": "end", "dx": -14, "offset": -53},
      "layer": [
        {"data": {"name": "sa"}, "mark": {"type": "point", "shape": "circle", "filled": false, "stroke": "#f4a642", "strokeWidth": 1.5, "size": 92, "opacity": 1, "clip": true},
         "encoding": {
           "x": {"field": "x", "type": "quantitative", "scale": {"domain": [0, 210], "nice": false, "zero": false}, "axis": {"values": [0, 30, 60, 90, 120, 150, 180, 210], "title": "PM₂.₅/(μg·m⁻³)"}},
           "y": {"field": "y", "type": "quantitative", "scale": {"domain": [0, 31], "nice": false}, "axis": {"values": [0, 5, 10, 15, 20, 25, 30], "title": "VIS/km"}}}},
        {"data": {"name": "ba"}, "mark": {"type": "rule", "color": "black", "strokeWidth": 3.2},
         "encoding": {"x": {"field": "x", "type": "quantitative"}, "y": {"field": "lo", "type": "quantitative"}, "y2": {"field": "hi"}}},
        {"data": {"name": "ba"}, "mark": {"type": "tick", "orient": "horizontal", "color": "black", "thickness": 3.5, "size": 27, "opacity": 1},
         "encoding": {"x": {"field": "x", "type": "quantitative"}, "y": {"field": "lo", "type": "quantitative"}}},
        {"data": {"name": "ba"}, "mark": {"type": "tick", "orient": "horizontal", "color": "black", "thickness": 3.5, "size": 27, "opacity": 1},
         "encoding": {"x": {"field": "x", "type": "quantitative"}, "y": {"field": "hi", "type": "quantitative"}}},
        {"data": {"name": "ba"}, "mark": {"type": "bar", "size": 36, "fill": "#b6ded8", "stroke": "#4db2a5", "strokeWidth": 3.4},
         "encoding": {"x": {"field": "x", "type": "quantitative"}, "y": {"field": "q1", "type": "quantitative"}, "y2": {"field": "q3"}}},
        {"data": {"name": "ba"}, "mark": {"type": "tick", "orient": "horizontal", "color": "#4db2a5", "thickness": 5, "size": 36, "opacity": 1},
         "encoding": {"x": {"field": "x", "type": "quantitative"}, "y": {"field": "md", "type": "quantitative"}}},
        {"data": {"name": "ba"}, "mark": {"type": "point", "shape": "circle", "filled": true, "color": "#e63a30", "size": 320, "opacity": 1, "strokeWidth": 0},
         "encoding": {"x": {"field": "x", "type": "quantitative"}, "y": {"field": "mn", "type": "quantitative"}}}
      ]
    },
    {
      "width": 581, "height": 464,
      "title": {"text": "(b)", "anchor": "end", "dx": -14, "offset": -53},
      "layer": [
        {"data": {"name": "sb"}, "mark": {"type": "point", "shape": "circle", "filled": false, "stroke": "#f4a642", "strokeWidth": 1.5, "size": 92, "opacity": 1, "clip": true},
         "encoding": {
           "x": {"field": "x", "type": "quantitative", "scale": {"domain": [0, 280], "nice": false, "zero": false}, "axis": {"values": [0, 40, 80, 120, 160, 200, 240, 280], "title": "PM₁₀/(μg·m⁻³)"}},
           "y": {"field": "y", "type": "quantitative", "scale": {"domain": [0, 31], "nice": false}, "axis": {"values": [0, 5, 10, 15, 20, 25, 30], "title": "VIS/km"}}}},
        {"data": {"name": "bb"}, "mark": {"type": "rule", "color": "black", "strokeWidth": 3.2},
         "encoding": {"x": {"field": "x", "type": "quantitative"}, "y": {"field": "lo", "type": "quantitative"}, "y2": {"field": "hi"}}},
        {"data": {"name": "bb"}, "mark": {"type": "tick", "orient": "horizontal", "color": "black", "thickness": 3.5, "size": 30, "opacity": 1},
         "encoding": {"x": {"field": "x", "type": "quantitative"}, "y": {"field": "lo", "type": "quantitative"}}},
        {"data": {"name": "bb"}, "mark": {"type": "tick", "orient": "horizontal", "color": "black", "thickness": 3.5, "size": 30, "opacity": 1},
         "encoding": {"x": {"field": "x", "type": "quantitative"}, "y": {"field": "hi", "type": "quantitative"}}},
        {"data": {"name": "bb"}, "mark": {"type": "bar", "size": 36, "fill": "#b6ded8", "stroke": "#4db2a5", "strokeWidth": 3.4},
         "encoding": {"x": {"field": "x", "type": "quantitative"}, "y": {"field": "q1", "type": "quantitative"}, "y2": {"field": "q3"}}},
        {"data": {"name": "bb"}, "mark": {"type": "tick", "orient": "horizontal", "color": "#4db2a5", "thickness": 5, "size": 36, "opacity": 1},
         "encoding": {"x": {"field": "x", "type": "quantitative"}, "y": {"field": "md", "type": "quantitative"}}},
        {"data": {"name": "bb"}, "mark": {"type": "point", "shape": "circle", "filled": true, "color": "#e63a30", "size": 320, "opacity": 1, "strokeWidth": 0},
         "encoding": {"x": {"field": "x", "type": "quantitative"}, "y": {"field": "mn", "type": "quantitative"}}}
      ]
    },
    {
      "width": 581, "height": 464,
      "title": {"text": "(c)", "anchor": "end", "dx": -14, "offset": -53},
      "layer": [
        {"data": {"name": "sc"}, "mark": {"type": "point", "shape": "circle", "filled": false, "stroke": "#f4a642", "strokeWidth": 1.5, "size": 92, "opacity": 1, "clip": true},
         "encoding": {
           "x": {"field": "x", "type": "quantitative", "scale": {"domain": [10, 90], "nice": false, "zero": false}, "axis": {"values": [10, 20, 30, 40, 50, 60, 70, 80, 90], "title": "NO₂/(μg·m⁻³)"}},
           "y": {"field": "y", "type": "quantitative", "scale": {"domain": [0, 31], "nice": false}, "axis": {"values": [0, 5, 10, 15, 20, 25, 30], "title": "VIS/km"}}}},
        {"data": {"name": "bc"}, "mark": {"type": "rule", "color": "black", "strokeWidth": 3.2},
         "encoding": {"x": {"field": "x", "type": "quantitative"}, "y": {"field": "lo", "type": "quantitative"}, "y2": {"field": "hi"}}},
        {"data": {"name": "bc"}, "mark": {"type": "tick", "orient": "horizontal", "color": "black", "thickness": 3.5, "size": 30, "opacity": 1},
         "encoding": {"x": {"field": "x", "type": "quantitative"}, "y": {"field": "lo", "type": "quantitative"}}},
        {"data": {"name": "bc"}, "mark": {"type": "tick", "orient": "horizontal", "color": "black", "thickness": 3.5, "size": 30, "opacity": 1},
         "encoding": {"x": {"field": "x", "type": "quantitative"}, "y": {"field": "hi", "type": "quantitative"}}},
        {"data": {"name": "bc"}, "mark": {"type": "bar", "size": 31, "fill": "#b6ded8", "stroke": "#4db2a5", "strokeWidth": 3.4},
         "encoding": {"x": {"field": "x", "type": "quantitative"}, "y": {"field": "q1", "type": "quantitative"}, "y2": {"field": "q3"}}},
        {"data": {"name": "bc"}, "mark": {"type": "tick", "orient": "horizontal", "color": "#4db2a5", "thickness": 5, "size": 31, "opacity": 1},
         "encoding": {"x": {"field": "x", "type": "quantitative"}, "y": {"field": "md", "type": "quantitative"}}},
        {"data": {"name": "bc"}, "mark": {"type": "point", "shape": "circle", "filled": true, "color": "#e63a30", "size": 320, "opacity": 1, "strokeWidth": 0},
         "encoding": {"x": {"field": "x", "type": "quantitative"}, "y": {"field": "mn", "type": "quantitative"}}}
      ]
    },
    {
      "width": 581, "height": 464,
      "title": {"text": "(d)", "anchor": "start", "dx": 13, "offset": -53},
      "layer": [
        {"data": {"name": "sd"}, "mark": {"type": "point", "shape": "circle", "filled": false, "stroke": "#f4a642", "strokeWidth": 1.5, "size": 92, "opacity": 1, "clip": true},
         "encoding": {
           "x": {"field": "x", "type": "quantitative", "scale": {"domain": [0.5, 4.0], "nice": false, "zero": false}, "axis": {"values": [0.5, 1.0, 1.5, 2.0, 2.5, 3.0, 3.5, 4.0], "format": ".1f", "title": "WS/(m·s⁻¹)"}},
           "y": {"field": "y", "type": "quantitative", "scale": {"domain": [0, 31], "nice": false}, "axis": {"values": [0, 5, 10, 15, 20, 25, 30], "title": "VIS/km"}}}},
        {"data": {"name": "bd"}, "mark": {"type": "rule", "color": "black", "strokeWidth": 3.2},
         "encoding": {"x": {"field": "x", "type": "quantitative"}, "y": {"field": "lo", "type": "quantitative"}, "y2": {"field": "hi"}}},
        {"data": {"name": "bd"}, "mark": {"type": "tick", "orient": "horizontal", "color": "black", "thickness": 3.5, "size": 27, "opacity": 1},
         "encoding": {"x": {"field": "x", "type": "quantitative"}, "y": {"field": "lo", "type": "quantitative"}}},
        {"data": {"name": "bd"}, "mark": {"type": "tick", "orient": "horizontal", "color": "black", "thickness": 3.5, "size": 27, "opacity": 1},
         "encoding": {"x": {"field": "x", "type": "quantitative"}, "y": {"field": "hi", "type": "quantitative"}}},
        {"data": {"name": "bd"}, "mark": {"type": "bar", "size": 36, "fill": "#b6ded8", "stroke": "#4db2a5", "strokeWidth": 3.4},
         "encoding": {"x": {"field": "x", "type": "quantitative"}, "y": {"field": "q1", "type": "quantitative"}, "y2": {"field": "q3"}}},
        {"data": {"name": "bd"}, "mark": {"type": "tick", "orient": "horizontal", "color": "#4db2a5", "thickness": 5, "size": 36, "opacity": 1},
         "encoding": {"x": {"field": "x", "type": "quantitative"}, "y": {"field": "md", "type": "quantitative"}}},
        {"data": {"name": "bd"}, "mark": {"type": "point", "shape": "circle", "filled": true, "color": "#e63a30", "size": 320, "opacity": 1, "strokeWidth": 0},
         "encoding": {"x": {"field": "x", "type": "quantitative"}, "y": {"field": "mn", "type": "quantitative"}}}
      ]
    },
    {
      "width": 581, "height": 464,
      "title": {"text": "(e)", "anchor": "end", "dx": -14, "offset": -53},
      "layer": [
        {"data": {"name": "se"}, "mark": {"type": "point", "shape": "circle", "filled": false, "stroke": "#f4a642", "strokeWidth": 1.5, "size": 92, "opacity": 1, "clip": true},
         "encoding": {
           "x": {"field": "x", "type": "quantitative", "scale": {"domain": [35, 95], "nice": false, "zero": false}, "axis": {"values": [35, 45, 55, 65, 75, 85, 95], "title": "RH/%"}},
           "y": {"field": "y", "type": "quantitative", "scale": {"domain": [0, 31], "nice": false}, "axis": {"values": [0, 5, 10, 15, 20, 25, 30], "title": "VIS/km"}}}},
        {"data": {"name": "be"}, "mark": {"type": "rule", "color": "black", "strokeWidth": 3.2},
         "encoding": {"x": {"field": "x", "type": "quantitative"}, "y": {"field": "lo", "type": "quantitative"}, "y2": {"field": "hi"}}},
        {"data": {"name": "be"}, "mark": {"type": "tick", "orient": "horizontal", "color": "black", "thickness": 3.5, "size": 30, "opacity": 1},
         "encoding": {"x": {"field": "x", "type": "quantitative"}, "y": {"field": "lo", "type": "quantitative"}}},
        {"data": {"name": "be"}, "mark": {"type": "tick", "orient": "horizontal", "color": "black", "thickness": 3.5, "size": 30, "opacity": 1},
         "encoding": {"x": {"field": "x", "type": "quantitative"}, "y": {"field": "hi", "type": "quantitative"}}},
        {"data": {"name": "be"}, "mark": {"type": "bar", "size": 42, "fill": "#b6ded8", "stroke": "#4db2a5", "strokeWidth": 3.4},
         "encoding": {"x": {"field": "x", "type": "quantitative"}, "y": {"field": "q1", "type": "quantitative"}, "y2": {"field": "q3"}}},
        {"data": {"name": "be"}, "mark": {"type": "tick", "orient": "horizontal", "color": "#4db2a5", "thickness": 5, "size": 42, "opacity": 1},
         "encoding": {"x": {"field": "x", "type": "quantitative"}, "y": {"field": "md", "type": "quantitative"}}},
        {"data": {"name": "be"}, "mark": {"type": "point", "shape": "circle", "filled": true, "color": "#e63a30", "size": 320, "opacity": 1, "strokeWidth": 0},
         "encoding": {"x": {"field": "x", "type": "quantitative"}, "y": {"field": "mn", "type": "quantitative"}}}
      ]
    },
    {
      "width": 581, "height": 464,
      "title": {"text": "(f)", "anchor": "start", "dx": 13, "offset": -53},
      "layer": [
        {"data": {"name": "sf"}, "mark": {"type": "point", "shape": "circle", "filled": false, "stroke": "#f4a642", "strokeWidth": 1.5, "size": 92, "opacity": 1, "clip": true},
         "encoding": {
           "x": {"field": "x", "type": "quantitative", "scale": {"domain": [0, 40], "nice": false, "zero": false}, "axis": {"values": [0, 5, 10, 15, 20, 25, 30, 35, 40], "title": "T/°C"}},
           "y": {"field": "y", "type": "quantitative", "scale": {"domain": [0, 31], "nice": false}, "axis": {"values": [0, 5, 10, 15, 20, 25, 30], "title": "VIS/km"}}}},
        {"data": {"name": "bf"}, "mark": {"type": "rule", "color": "black", "strokeWidth": 3.2},
         "encoding": {"x": {"field": "x", "type": "quantitative"}, "y": {"field": "lo", "type": "quantitative"}, "y2": {"field": "hi"}}},
        {"data": {"name": "bf"}, "mark": {"type": "tick", "orient": "horizontal", "color": "black", "thickness": 3.5, "size": 27, "opacity": 1},
         "encoding": {"x": {"field": "x", "type": "quantitative"}, "y": {"field": "lo", "type": "quantitative"}}},
        {"data": {"name": "bf"}, "mark": {"type": "tick", "orient": "horizontal", "color": "black", "thickness": 3.5, "size": 27, "opacity": 1},
         "encoding": {"x": {"field": "x", "type": "quantitative"}, "y": {"field": "hi", "type": "quantitative"}}},
        {"data": {"name": "bf"}, "mark": {"type": "bar", "size": 31, "fill": "#b6ded8", "stroke": "#4db2a5", "strokeWidth": 3.4},
         "encoding": {"x": {"field": "x", "type": "quantitative"}, "y": {"field": "q1", "type": "quantitative"}, "y2": {"field": "q3"}}},
        {"data": {"name": "bf"}, "mark": {"type": "tick", "orient": "horizontal", "color": "#4db2a5", "thickness": 5, "size": 31, "opacity": 1},
         "encoding": {"x": {"field": "x", "type": "quantitative"}, "y": {"field": "md", "type": "quantitative"}}},
        {"data": {"name": "bf"}, "mark": {"type": "point", "shape": "circle", "filled": true, "color": "#e63a30", "size": 320, "opacity": 1, "strokeWidth": 0},
         "encoding": {"x": {"field": "x", "type": "quantitative"}, "y": {"field": "mn", "type": "quantitative"}}}
      ]
    }
  ]
}
